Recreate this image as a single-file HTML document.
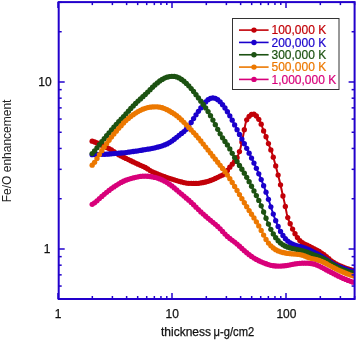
<!DOCTYPE html>
<html><head><meta charset="utf-8"><style>
html,body{margin:0;padding:0;background:#fff;}
svg{display:block;}
</style></head><body>
<svg width="357" height="340" viewBox="0 0 357 340">
<defs><clipPath id="pc"><rect x="58.7" y="2.1" width="295.90000000000003" height="296.9"/></clipPath></defs><g clip-path="url(#pc)"><path d="M92.15,141.14 L92.65,141.26 L93.15,141.43 L93.65,141.63 L94.15,141.83 L94.65,142.03 L95.15,142.24 L95.65,142.45 L96.15,142.66 L96.65,142.87 L97.15,143.08 L97.65,143.30 L98.15,143.52 L98.65,143.74 L99.15,143.96 L99.65,144.19 L100.15,144.42 L100.65,144.66 L101.15,144.89 L101.65,145.13 L102.15,145.37 L102.65,145.61 L103.15,145.85 L103.65,146.09 L104.15,146.33 L104.65,146.57 L105.15,146.81 L105.65,147.04 L106.15,147.27 L106.65,147.50 L107.15,147.72 L107.65,147.95 L108.15,148.18 L108.65,148.42 L109.15,148.66 L109.65,148.92 L110.15,149.19 L110.65,149.48 L111.15,149.79 L111.65,150.11 L112.15,150.44 L112.65,150.79 L113.15,151.14 L113.65,151.49 L114.15,151.85 L114.65,152.20 L115.15,152.55 L115.65,152.89 L116.15,153.22 L116.65,153.54 L117.15,153.85 L117.65,154.14 L118.15,154.43 L118.65,154.71 L119.15,154.98 L119.65,155.25 L120.15,155.52 L120.65,155.78 L121.15,156.05 L121.65,156.30 L122.15,156.56 L122.65,156.81 L123.15,157.07 L123.65,157.32 L124.15,157.57 L124.65,157.82 L125.15,158.07 L125.65,158.32 L126.15,158.56 L126.65,158.80 L127.15,159.04 L127.65,159.28 L128.15,159.52 L128.65,159.75 L129.15,159.99 L129.65,160.23 L130.15,160.46 L130.65,160.70 L131.15,160.94 L131.65,161.18 L132.15,161.42 L132.65,161.66 L133.15,161.90 L133.65,162.14 L134.15,162.38 L134.65,162.62 L135.15,162.86 L135.65,163.09 L136.15,163.33 L136.65,163.57 L137.15,163.80 L137.65,164.04 L138.15,164.27 L138.65,164.49 L139.15,164.72 L139.65,164.94 L140.15,165.15 L140.65,165.36 L141.15,165.58 L141.65,165.79 L142.15,166.01 L142.65,166.22 L143.15,166.45 L143.65,166.68 L144.15,166.91 L144.65,167.16 L145.15,167.42 L145.65,167.69 L146.15,167.98 L146.65,168.29 L147.15,168.61 L147.65,168.94 L148.15,169.27 L148.65,169.61 L149.15,169.94 L149.65,170.25 L150.15,170.56 L150.65,170.84 L151.15,171.11 L151.65,171.37 L152.15,171.62 L152.65,171.87 L153.15,172.11 L153.65,172.35 L154.15,172.58 L154.65,172.81 L155.15,173.03 L155.65,173.25 L156.15,173.47 L156.65,173.68 L157.15,173.89 L157.65,174.10 L158.15,174.30 L158.65,174.51 L159.15,174.71 L159.65,174.91 L160.15,175.11 L160.65,175.31 L161.15,175.50 L161.65,175.69 L162.15,175.87 L162.65,176.06 L163.15,176.24 L163.65,176.42 L164.15,176.60 L164.65,176.77 L165.15,176.94 L165.65,177.11 L166.15,177.28 L166.65,177.44 L167.15,177.60 L167.65,177.76 L168.15,177.92 L168.65,178.08 L169.15,178.24 L169.65,178.39 L170.15,178.55 L170.65,178.70 L171.15,178.85 L171.65,179.01 L172.15,179.16 L172.65,179.32 L173.15,179.47 L173.65,179.63 L174.15,179.79 L174.65,179.95 L175.15,180.12 L175.65,180.28 L176.15,180.44 L176.65,180.60 L177.15,180.76 L177.65,180.92 L178.15,181.07 L178.65,181.22 L179.15,181.36 L179.65,181.50 L180.15,181.63 L180.65,181.76 L181.15,181.88 L181.65,182.01 L182.15,182.13 L182.65,182.26 L183.15,182.39 L183.65,182.51 L184.15,182.64 L184.65,182.75 L185.15,182.86 L185.65,182.96 L186.15,183.05 L186.65,183.13 L187.15,183.19 L187.65,183.24 L188.15,183.28 L188.65,183.30 L189.15,183.31 L189.65,183.33 L190.15,183.34 L190.65,183.34 L191.15,183.35 L191.65,183.36 L192.15,183.37 L192.65,183.38 L193.15,183.38 L193.65,183.39 L194.15,183.39 L194.65,183.39 L195.15,183.40 L195.65,183.40 L196.15,183.40 L196.65,183.39 L197.15,183.38 L197.65,183.35 L198.15,183.31 L198.65,183.26 L199.15,183.21 L199.65,183.14 L200.15,183.06 L200.65,182.98 L201.15,182.90 L201.65,182.81 L202.15,182.71 L202.65,182.62 L203.15,182.52 L203.65,182.42 L204.15,182.32 L204.65,182.22 L205.15,182.11 L205.65,182.00 L206.15,181.87 L206.65,181.74 L207.15,181.60 L207.65,181.45 L208.15,181.29 L208.65,181.13 L209.15,180.97 L209.65,180.80 L210.15,180.63 L210.65,180.45 L211.15,180.27 L211.65,180.09 L212.15,179.90 L212.65,179.70 L213.15,179.50 L213.65,179.28 L214.15,179.06 L214.65,178.82 L215.15,178.58 L215.65,178.34 L216.15,178.09 L216.65,177.83 L217.15,177.58 L217.65,177.32 L218.15,177.07 L218.65,176.81 L219.15,176.56 L219.65,176.32 L220.15,176.08 L220.65,175.86 L221.15,175.64 L221.65,175.44 L222.15,175.23 L222.65,175.01 L223.15,174.77 L223.65,174.51 L224.15,174.22 L224.65,173.87 L225.15,173.45 L225.65,172.92 L226.15,172.27 L226.65,171.57 L227.15,170.85 L227.65,170.14 L228.15,169.44 L228.65,168.75 L229.15,168.05 L229.65,167.38 L230.15,166.72 L230.65,166.08 L231.15,165.47 L231.65,164.86 L232.15,164.27 L232.65,163.67 L233.15,163.08 L233.65,162.50 L234.15,161.93 L234.65,161.35 L235.15,160.73 L235.65,160.04 L236.15,159.27 L236.65,158.40 L237.15,157.44 L237.65,156.35 L238.15,155.14 L238.65,153.86 L239.15,152.52 L239.65,151.05 L240.15,149.36 L240.65,147.44 L241.15,145.33 L241.65,143.10 L242.15,140.76 L242.65,138.31 L243.15,135.76 L243.65,133.14 L244.15,130.49 L244.65,127.86 L245.15,125.33 L245.65,123.05 L246.15,121.25 L246.65,119.97 L247.15,119.02 L247.65,118.26 L248.15,117.59 L248.65,116.95 L249.15,116.31 L249.65,115.68 L250.15,115.13 L250.65,114.72 L251.15,114.44 L251.65,114.26 L252.15,114.14 L252.65,114.06 L253.15,114.05 L253.65,114.13 L254.15,114.30 L254.65,114.54 L255.15,114.84 L255.65,115.24 L256.15,115.74 L256.65,116.33 L257.15,116.98 L257.65,117.65 L258.15,118.37 L258.65,119.14 L259.15,119.97 L259.65,120.88 L260.15,121.87 L260.65,122.94 L261.15,124.10 L261.65,125.36 L262.15,126.75 L262.65,128.22 L263.15,129.68 L263.65,131.06 L264.15,132.31 L264.65,133.48 L265.15,134.62 L265.65,135.79 L266.15,137.03 L266.65,138.38 L267.15,139.82 L267.65,141.30 L268.15,142.77 L268.65,144.17 L269.15,145.51 L269.65,146.80 L270.15,148.09 L270.65,149.40 L271.15,150.77 L271.65,152.19 L272.15,153.67 L272.65,155.20 L273.15,156.79 L273.65,158.46 L274.15,160.22 L274.65,162.05 L275.15,163.93 L275.65,165.80 L276.15,167.67 L276.65,169.53 L277.15,171.40 L277.65,173.30 L278.15,175.22 L278.65,177.16 L279.15,179.14 L279.65,181.15 L280.15,183.22 L280.65,185.39 L281.15,187.66 L281.65,190.02 L282.15,192.40 L282.65,194.71 L283.15,196.92 L283.65,199.04 L284.15,201.14 L284.65,203.27 L285.15,205.52 L285.65,207.97 L286.15,210.58 L286.65,213.13 L287.15,215.38 L287.65,217.23 L288.15,218.77 L288.65,220.11 L289.15,221.35 L289.65,222.52 L290.15,223.68 L290.65,224.84 L291.15,225.97 L291.65,227.07 L292.15,228.14 L292.65,229.18 L293.15,230.19 L293.65,231.18 L294.15,232.15 L294.65,233.09 L295.15,233.99 L295.65,234.85 L296.15,235.66 L296.65,236.42 L297.15,237.16 L297.65,237.86 L298.15,238.53 L298.65,239.17 L299.15,239.77 L299.65,240.34 L300.15,240.89 L300.65,241.40 L301.15,241.88 L301.65,242.31 L302.15,242.68 L302.65,243.02 L303.15,243.32 L303.65,243.61 L304.15,243.88 L304.65,244.13 L305.15,244.37 L305.65,244.60 L306.15,244.83 L306.65,245.05 L307.15,245.27 L307.65,245.49 L308.15,245.71 L308.65,245.95 L309.15,246.19 L309.65,246.44 L310.15,246.69 L310.65,246.94 L311.15,247.19 L311.65,247.45 L312.15,247.70 L312.65,247.95 L313.15,248.21 L313.65,248.46 L314.15,248.72 L314.65,248.98 L315.15,249.24 L315.65,249.51 L316.15,249.78 L316.65,250.05 L317.15,250.33 L317.65,250.61 L318.15,250.90 L318.65,251.19 L319.15,251.49 L319.65,251.80 L320.15,252.11 L320.65,252.43 L321.15,252.75 L321.65,253.08 L322.15,253.41 L322.65,253.75 L323.15,254.10 L323.65,254.45 L324.15,254.81 L324.65,255.18 L325.15,255.55 L325.65,255.94 L326.15,256.35 L326.65,256.77 L327.15,257.21 L327.65,257.65 L328.15,258.09 L328.65,258.54 L329.15,258.99 L329.65,259.44 L330.15,259.87 L330.65,260.30 L331.15,260.71 L331.65,261.10 L332.15,261.48 L332.65,261.83 L333.15,262.16 L333.65,262.47 L334.15,262.78 L334.65,263.07 L335.15,263.36 L335.65,263.64 L336.15,263.91 L336.65,264.18 L337.15,264.44 L337.65,264.69 L338.15,264.93 L338.65,265.17 L339.15,265.40 L339.65,265.63 L340.15,265.85 L340.65,266.06 L341.15,266.27 L341.65,266.48 L342.15,266.68 L342.65,266.88 L343.15,267.08 L343.65,267.28 L344.15,267.48 L344.65,267.67 L345.15,267.86 L345.65,268.05 L346.15,268.23 L346.65,268.41 L347.15,268.59 L347.65,268.77 L348.15,268.94 L348.65,269.11 L349.15,269.27 L349.65,269.43 L350.15,269.59 L350.65,269.74 L351.15,269.89 L351.65,270.03 L352.15,270.17 L352.65,270.30 L353.15,270.43 L353.65,270.55 L354.15,270.66 L354.65,270.73 L355.15,270.77 L355.65,270.77" fill="none" stroke="#c20008" stroke-width="2.0"/>
<g fill="#c20008"><circle cx="92.15" cy="141.14" r="2.65"/><circle cx="94.57" cy="142.00" r="2.65"/><circle cx="96.98" cy="143.01" r="2.65"/><circle cx="99.40" cy="144.08" r="2.65"/><circle cx="101.81" cy="145.21" r="2.65"/><circle cx="104.23" cy="146.37" r="2.65"/><circle cx="106.64" cy="147.49" r="2.65"/><circle cx="109.06" cy="148.61" r="2.65"/><circle cx="111.47" cy="149.99" r="2.65"/><circle cx="113.89" cy="151.66" r="2.65"/><circle cx="116.30" cy="153.32" r="2.65"/><circle cx="118.72" cy="154.74" r="2.65"/><circle cx="121.13" cy="156.03" r="2.65"/><circle cx="123.55" cy="157.27" r="2.65"/><circle cx="125.96" cy="158.47" r="2.65"/><circle cx="128.38" cy="159.62" r="2.65"/><circle cx="130.79" cy="160.77" r="2.65"/><circle cx="133.21" cy="161.92" r="2.65"/><circle cx="135.62" cy="163.08" r="2.65"/><circle cx="138.04" cy="164.21" r="2.65"/><circle cx="140.45" cy="165.28" r="2.65"/><circle cx="142.87" cy="166.32" r="2.65"/><circle cx="145.28" cy="167.49" r="2.65"/><circle cx="147.70" cy="168.97" r="2.65"/><circle cx="150.11" cy="170.53" r="2.65"/><circle cx="152.53" cy="171.81" r="2.65"/><circle cx="154.94" cy="172.94" r="2.65"/><circle cx="157.36" cy="173.97" r="2.65"/><circle cx="159.77" cy="174.96" r="2.65"/><circle cx="162.19" cy="175.89" r="2.65"/><circle cx="164.60" cy="176.75" r="2.65"/><circle cx="167.02" cy="177.56" r="2.65"/><circle cx="169.43" cy="178.32" r="2.65"/><circle cx="171.85" cy="179.07" r="2.65"/><circle cx="174.26" cy="179.83" r="2.65"/><circle cx="176.68" cy="180.61" r="2.65"/><circle cx="179.09" cy="181.34" r="2.65"/><circle cx="181.51" cy="181.97" r="2.65"/><circle cx="183.92" cy="182.58" r="2.65"/><circle cx="186.34" cy="183.08" r="2.65"/><circle cx="188.75" cy="183.30" r="2.65"/><circle cx="191.17" cy="183.35" r="2.65"/><circle cx="193.58" cy="183.39" r="2.65"/><circle cx="196.00" cy="183.40" r="2.65"/><circle cx="198.41" cy="183.29" r="2.65"/><circle cx="200.83" cy="182.95" r="2.65"/><circle cx="203.24" cy="182.50" r="2.65"/><circle cx="205.66" cy="181.99" r="2.65"/><circle cx="208.07" cy="181.32" r="2.65"/><circle cx="210.49" cy="180.51" r="2.65"/><circle cx="212.90" cy="179.60" r="2.65"/><circle cx="215.32" cy="178.50" r="2.65"/><circle cx="217.73" cy="177.28" r="2.65"/><circle cx="220.15" cy="176.08" r="2.65"/><circle cx="222.56" cy="175.05" r="2.65"/><circle cx="224.98" cy="173.61" r="2.65"/><circle cx="227.39" cy="170.51" r="2.65"/><circle cx="229.81" cy="167.17" r="2.65"/><circle cx="232.22" cy="164.18" r="2.65"/><circle cx="234.64" cy="161.37" r="2.65"/><circle cx="237.05" cy="157.64" r="2.65"/><circle cx="239.47" cy="151.61" r="2.65"/><circle cx="241.88" cy="142.04" r="2.65"/><circle cx="244.30" cy="129.72" r="2.65"/><circle cx="246.71" cy="119.85" r="2.65"/><circle cx="249.13" cy="116.34" r="2.65"/><circle cx="251.54" cy="114.30" r="2.65"/><circle cx="253.96" cy="114.22" r="2.65"/><circle cx="256.37" cy="115.99" r="2.65"/><circle cx="258.79" cy="119.36" r="2.65"/><circle cx="261.20" cy="124.22" r="2.65"/><circle cx="263.62" cy="130.96" r="2.65"/><circle cx="266.03" cy="136.73" r="2.65"/><circle cx="268.45" cy="143.60" r="2.65"/><circle cx="270.86" cy="149.97" r="2.65"/><circle cx="273.28" cy="157.20" r="2.65"/><circle cx="275.69" cy="165.95" r="2.65"/><circle cx="278.11" cy="175.04" r="2.65"/><circle cx="280.52" cy="184.82" r="2.65"/><circle cx="282.94" cy="195.98" r="2.65"/><circle cx="285.35" cy="206.48" r="2.65"/><circle cx="287.77" cy="217.59" r="2.65"/><circle cx="290.18" cy="223.75" r="2.65"/><circle cx="292.60" cy="229.07" r="2.65"/><circle cx="295.01" cy="233.74" r="2.65"/><circle cx="297.43" cy="237.55" r="2.65"/><circle cx="299.84" cy="240.55" r="2.65"/><circle cx="302.26" cy="242.76" r="2.65"/><circle cx="304.67" cy="244.14" r="2.65"/><circle cx="307.09" cy="245.24" r="2.65"/><circle cx="309.50" cy="246.36" r="2.65"/><circle cx="311.92" cy="247.58" r="2.65"/><circle cx="314.33" cy="248.81" r="2.65"/><circle cx="316.75" cy="250.11" r="2.65"/><circle cx="319.16" cy="251.50" r="2.65"/><circle cx="321.58" cy="253.03" r="2.65"/><circle cx="323.99" cy="254.70" r="2.65"/><circle cx="326.41" cy="256.56" r="2.65"/><circle cx="328.82" cy="258.70" r="2.65"/><circle cx="331.24" cy="260.78" r="2.65"/><circle cx="333.65" cy="262.47" r="2.65"/><circle cx="336.07" cy="263.87" r="2.65"/><circle cx="338.48" cy="265.09" r="2.65"/><circle cx="340.90" cy="266.16" r="2.65"/><circle cx="343.31" cy="267.15" r="2.65"/><circle cx="345.73" cy="268.08" r="2.65"/><circle cx="348.14" cy="268.94" r="2.65"/><circle cx="350.56" cy="269.71" r="2.65"/><circle cx="352.97" cy="270.38" r="2.65"/><circle cx="355.39" cy="270.77" r="2.65"/></g><path d="M92.15,154.65 L92.65,154.65 L93.15,154.64 L93.65,154.62 L94.15,154.61 L94.65,154.60 L95.15,154.58 L95.65,154.57 L96.15,154.55 L96.65,154.54 L97.15,154.52 L97.65,154.50 L98.15,154.48 L98.65,154.47 L99.15,154.45 L99.65,154.43 L100.15,154.41 L100.65,154.39 L101.15,154.37 L101.65,154.35 L102.15,154.33 L102.65,154.31 L103.15,154.29 L103.65,154.27 L104.15,154.25 L104.65,154.23 L105.15,154.21 L105.65,154.19 L106.15,154.16 L106.65,154.14 L107.15,154.11 L107.65,154.09 L108.15,154.06 L108.65,154.02 L109.15,153.99 L109.65,153.95 L110.15,153.92 L110.65,153.88 L111.15,153.83 L111.65,153.79 L112.15,153.74 L112.65,153.69 L113.15,153.65 L113.65,153.60 L114.15,153.55 L114.65,153.50 L115.15,153.45 L115.65,153.41 L116.15,153.36 L116.65,153.32 L117.15,153.27 L117.65,153.23 L118.15,153.20 L118.65,153.16 L119.15,153.12 L119.65,153.09 L120.15,153.05 L120.65,153.02 L121.15,152.98 L121.65,152.95 L122.15,152.91 L122.65,152.87 L123.15,152.83 L123.65,152.78 L124.15,152.73 L124.65,152.68 L125.15,152.63 L125.65,152.57 L126.15,152.51 L126.65,152.45 L127.15,152.38 L127.65,152.31 L128.15,152.24 L128.65,152.17 L129.15,152.09 L129.65,152.02 L130.15,151.95 L130.65,151.87 L131.15,151.80 L131.65,151.73 L132.15,151.65 L132.65,151.58 L133.15,151.51 L133.65,151.44 L134.15,151.37 L134.65,151.30 L135.15,151.23 L135.65,151.15 L136.15,151.08 L136.65,151.01 L137.15,150.93 L137.65,150.86 L138.15,150.78 L138.65,150.71 L139.15,150.63 L139.65,150.55 L140.15,150.47 L140.65,150.39 L141.15,150.30 L141.65,150.22 L142.15,150.14 L142.65,150.05 L143.15,149.97 L143.65,149.89 L144.15,149.80 L144.65,149.72 L145.15,149.64 L145.65,149.55 L146.15,149.47 L146.65,149.39 L147.15,149.30 L147.65,149.22 L148.15,149.13 L148.65,149.05 L149.15,148.96 L149.65,148.87 L150.15,148.78 L150.65,148.68 L151.15,148.59 L151.65,148.49 L152.15,148.39 L152.65,148.28 L153.15,148.18 L153.65,148.07 L154.15,147.96 L154.65,147.85 L155.15,147.73 L155.65,147.61 L156.15,147.49 L156.65,147.37 L157.15,147.24 L157.65,147.11 L158.15,146.98 L158.65,146.85 L159.15,146.71 L159.65,146.57 L160.15,146.43 L160.65,146.28 L161.15,146.13 L161.65,145.98 L162.15,145.82 L162.65,145.65 L163.15,145.48 L163.65,145.30 L164.15,145.12 L164.65,144.93 L165.15,144.73 L165.65,144.52 L166.15,144.30 L166.65,144.07 L167.15,143.84 L167.65,143.59 L168.15,143.33 L168.65,143.05 L169.15,142.77 L169.65,142.47 L170.15,142.17 L170.65,141.85 L171.15,141.52 L171.65,141.18 L172.15,140.82 L172.65,140.46 L173.15,140.09 L173.65,139.71 L174.15,139.32 L174.65,138.93 L175.15,138.53 L175.65,138.13 L176.15,137.72 L176.65,137.31 L177.15,136.90 L177.65,136.49 L178.15,136.08 L178.65,135.67 L179.15,135.27 L179.65,134.88 L180.15,134.49 L180.65,134.11 L181.15,133.73 L181.65,133.36 L182.15,132.98 L182.65,132.60 L183.15,132.21 L183.65,131.81 L184.15,131.39 L184.65,130.95 L185.15,130.48 L185.65,129.98 L186.15,129.45 L186.65,128.88 L187.15,128.28 L187.65,127.64 L188.15,126.97 L188.65,126.27 L189.15,125.54 L189.65,124.79 L190.15,124.02 L190.65,123.24 L191.15,122.45 L191.65,121.65 L192.15,120.85 L192.65,120.05 L193.15,119.25 L193.65,118.46 L194.15,117.67 L194.65,116.89 L195.15,116.12 L195.65,115.36 L196.15,114.61 L196.65,113.86 L197.15,113.13 L197.65,112.41 L198.15,111.69 L198.65,110.98 L199.15,110.28 L199.65,109.58 L200.15,108.89 L200.65,108.20 L201.15,107.52 L201.65,106.85 L202.15,106.18 L202.65,105.52 L203.15,104.87 L203.65,104.24 L204.15,103.63 L204.65,103.04 L205.15,102.47 L205.65,101.92 L206.15,101.40 L206.65,100.92 L207.15,100.46 L207.65,100.04 L208.15,99.65 L208.65,99.30 L209.15,98.99 L209.65,98.72 L210.15,98.48 L210.65,98.29 L211.15,98.13 L211.65,98.01 L212.15,97.94 L212.65,97.90 L213.15,97.90 L213.65,97.94 L214.15,98.01 L214.65,98.13 L215.15,98.28 L215.65,98.47 L216.15,98.70 L216.65,98.96 L217.15,99.27 L217.65,99.61 L218.15,99.98 L218.65,100.39 L219.15,100.83 L219.65,101.31 L220.15,101.82 L220.65,102.35 L221.15,102.92 L221.65,103.51 L222.15,104.12 L222.65,104.76 L223.15,105.42 L223.65,106.10 L224.15,106.80 L224.65,107.52 L225.15,108.25 L225.65,109.01 L226.15,109.77 L226.65,110.56 L227.15,111.35 L227.65,112.17 L228.15,112.99 L228.65,113.83 L229.15,114.69 L229.65,115.56 L230.15,116.44 L230.65,117.33 L231.15,118.24 L231.65,119.16 L232.15,120.09 L232.65,121.04 L233.15,121.99 L233.65,122.96 L234.15,123.93 L234.65,124.92 L235.15,125.91 L235.65,126.90 L236.15,127.89 L236.65,128.88 L237.15,129.88 L237.65,130.87 L238.15,131.85 L238.65,132.83 L239.15,133.81 L239.65,134.78 L240.15,135.75 L240.65,136.71 L241.15,137.67 L241.65,138.63 L242.15,139.58 L242.65,140.54 L243.15,141.49 L243.65,142.45 L244.15,143.41 L244.65,144.37 L245.15,145.34 L245.65,146.30 L246.15,147.28 L246.65,148.25 L247.15,149.23 L247.65,150.22 L248.15,151.21 L248.65,152.21 L249.15,153.21 L249.65,154.22 L250.15,155.24 L250.65,156.25 L251.15,157.28 L251.65,158.31 L252.15,159.34 L252.65,160.38 L253.15,161.43 L253.65,162.48 L254.15,163.54 L254.65,164.60 L255.15,165.67 L255.65,166.76 L256.15,167.85 L256.65,168.95 L257.15,170.06 L257.65,171.18 L258.15,172.32 L258.65,173.47 L259.15,174.63 L259.65,175.80 L260.15,176.99 L260.65,178.19 L261.15,179.40 L261.65,180.63 L262.15,181.88 L262.65,183.14 L263.15,184.42 L263.65,185.72 L264.15,187.04 L264.65,188.38 L265.15,189.74 L265.65,191.12 L266.15,192.53 L266.65,193.97 L267.15,195.43 L267.65,196.91 L268.15,198.42 L268.65,199.95 L269.15,201.49 L269.65,203.04 L270.15,204.60 L270.65,206.16 L271.15,207.71 L271.65,209.25 L272.15,210.77 L272.65,212.27 L273.15,213.74 L273.65,215.18 L274.15,216.59 L274.65,217.96 L275.15,219.30 L275.65,220.60 L276.15,221.87 L276.65,223.10 L277.15,224.30 L277.65,225.46 L278.15,226.59 L278.65,227.68 L279.15,228.73 L279.65,229.75 L280.15,230.73 L280.65,231.67 L281.15,232.57 L281.65,233.43 L282.15,234.26 L282.65,235.04 L283.15,235.79 L283.65,236.50 L284.15,237.17 L284.65,237.80 L285.15,238.41 L285.65,238.97 L286.15,239.51 L286.65,240.02 L287.15,240.50 L287.65,240.95 L288.15,241.38 L288.65,241.78 L289.15,242.15 L289.65,242.50 L290.15,242.84 L290.65,243.15 L291.15,243.44 L291.65,243.71 L292.15,243.97 L292.65,244.21 L293.15,244.43 L293.65,244.64 L294.15,244.84 L294.65,245.02 L295.15,245.20 L295.65,245.36 L296.15,245.51 L296.65,245.66 L297.15,245.80 L297.65,245.94 L298.15,246.07 L298.65,246.20 L299.15,246.32 L299.65,246.45 L300.15,246.58 L300.65,246.70 L301.15,246.83 L301.65,246.97 L302.15,247.11 L302.65,247.26 L303.15,247.41 L303.65,247.57 L304.15,247.73 L304.65,247.91 L305.15,248.09 L305.65,248.27 L306.15,248.47 L306.65,248.67 L307.15,248.88 L307.65,249.10 L308.15,249.32 L308.65,249.55 L309.15,249.78 L309.65,250.02 L310.15,250.27 L310.65,250.52 L311.15,250.77 L311.65,251.03 L312.15,251.29 L312.65,251.55 L313.15,251.81 L313.65,252.08 L314.15,252.34 L314.65,252.60 L315.15,252.87 L315.65,253.13 L316.15,253.39 L316.65,253.66 L317.15,253.92 L317.65,254.18 L318.15,254.45 L318.65,254.72 L319.15,255.00 L319.65,255.27 L320.15,255.56 L320.65,255.85 L321.15,256.14 L321.65,256.44 L322.15,256.75 L322.65,257.06 L323.15,257.38 L323.65,257.70 L324.15,258.03 L324.65,258.36 L325.15,258.69 L325.65,259.03 L326.15,259.37 L326.65,259.70 L327.15,260.04 L327.65,260.38 L328.15,260.72 L328.65,261.05 L329.15,261.38 L329.65,261.71 L330.15,262.03 L330.65,262.35 L331.15,262.65 L331.65,262.96 L332.15,263.25 L332.65,263.54 L333.15,263.82 L333.65,264.10 L334.15,264.36 L334.65,264.62 L335.15,264.87 L335.65,265.12 L336.15,265.35 L336.65,265.59 L337.15,265.81 L337.65,266.04 L338.15,266.25 L338.65,266.47 L339.15,266.68 L339.65,266.88 L340.15,267.09 L340.65,267.29 L341.15,267.49 L341.65,267.68 L342.15,267.88 L342.65,268.07 L343.15,268.26 L343.65,268.44 L344.15,268.63 L344.65,268.81 L345.15,268.99 L345.65,269.17 L346.15,269.35 L346.65,269.53 L347.15,269.70 L347.65,269.87 L348.15,270.04 L348.65,270.20 L349.15,270.36 L349.65,270.52 L350.15,270.67 L350.65,270.82 L351.15,270.96 L351.65,271.10 L352.15,271.22 L352.65,271.34 L353.15,271.45 L353.65,271.55 L354.15,271.64 L354.65,271.72 L355.15,271.79 L355.65,271.85" fill="none" stroke="#1a00cc" stroke-width="2.0"/>
<g fill="#1a00cc"><circle cx="92.15" cy="154.65" r="2.65"/><circle cx="94.57" cy="154.60" r="2.65"/><circle cx="96.98" cy="154.52" r="2.65"/><circle cx="99.40" cy="154.44" r="2.65"/><circle cx="101.81" cy="154.35" r="2.65"/><circle cx="104.23" cy="154.25" r="2.65"/><circle cx="106.64" cy="154.14" r="2.65"/><circle cx="109.06" cy="154.00" r="2.65"/><circle cx="111.47" cy="153.80" r="2.65"/><circle cx="113.89" cy="153.57" r="2.65"/><circle cx="116.30" cy="153.35" r="2.65"/><circle cx="118.72" cy="153.15" r="2.65"/><circle cx="121.13" cy="152.98" r="2.65"/><circle cx="123.55" cy="152.79" r="2.65"/><circle cx="125.96" cy="152.53" r="2.65"/><circle cx="128.38" cy="152.21" r="2.65"/><circle cx="130.79" cy="151.85" r="2.65"/><circle cx="133.21" cy="151.50" r="2.65"/><circle cx="135.62" cy="151.16" r="2.65"/><circle cx="138.04" cy="150.80" r="2.65"/><circle cx="140.45" cy="150.42" r="2.65"/><circle cx="142.87" cy="150.02" r="2.65"/><circle cx="145.28" cy="149.61" r="2.65"/><circle cx="147.70" cy="149.21" r="2.65"/><circle cx="150.11" cy="148.78" r="2.65"/><circle cx="152.53" cy="148.31" r="2.65"/><circle cx="154.94" cy="147.78" r="2.65"/><circle cx="157.36" cy="147.19" r="2.65"/><circle cx="159.77" cy="146.54" r="2.65"/><circle cx="162.19" cy="145.81" r="2.65"/><circle cx="164.60" cy="144.95" r="2.65"/><circle cx="167.02" cy="143.90" r="2.65"/><circle cx="169.43" cy="142.61" r="2.65"/><circle cx="171.85" cy="141.04" r="2.65"/><circle cx="174.26" cy="139.24" r="2.65"/><circle cx="176.68" cy="137.29" r="2.65"/><circle cx="179.09" cy="135.32" r="2.65"/><circle cx="181.51" cy="133.46" r="2.65"/><circle cx="183.92" cy="131.59" r="2.65"/><circle cx="186.34" cy="129.25" r="2.65"/><circle cx="188.75" cy="126.13" r="2.65"/><circle cx="191.17" cy="122.43" r="2.65"/><circle cx="193.58" cy="118.57" r="2.65"/><circle cx="196.00" cy="114.84" r="2.65"/><circle cx="198.41" cy="111.32" r="2.65"/><circle cx="200.83" cy="107.96" r="2.65"/><circle cx="203.24" cy="104.76" r="2.65"/><circle cx="205.66" cy="101.92" r="2.65"/><circle cx="208.07" cy="99.71" r="2.65"/><circle cx="210.49" cy="98.35" r="2.65"/><circle cx="212.90" cy="97.89" r="2.65"/><circle cx="215.32" cy="98.34" r="2.65"/><circle cx="217.73" cy="99.66" r="2.65"/><circle cx="220.15" cy="101.81" r="2.65"/><circle cx="222.56" cy="104.64" r="2.65"/><circle cx="224.98" cy="107.99" r="2.65"/><circle cx="227.39" cy="111.74" r="2.65"/><circle cx="229.81" cy="115.83" r="2.65"/><circle cx="232.22" cy="120.22" r="2.65"/><circle cx="234.64" cy="124.89" r="2.65"/><circle cx="237.05" cy="129.68" r="2.65"/><circle cx="239.47" cy="134.42" r="2.65"/><circle cx="241.88" cy="139.07" r="2.65"/><circle cx="244.30" cy="143.69" r="2.65"/><circle cx="246.71" cy="148.37" r="2.65"/><circle cx="249.13" cy="153.16" r="2.65"/><circle cx="251.54" cy="158.08" r="2.65"/><circle cx="253.96" cy="163.12" r="2.65"/><circle cx="256.37" cy="168.33" r="2.65"/><circle cx="258.79" cy="173.78" r="2.65"/><circle cx="261.20" cy="179.53" r="2.65"/><circle cx="263.62" cy="185.63" r="2.65"/><circle cx="266.03" cy="192.19" r="2.65"/><circle cx="268.45" cy="199.32" r="2.65"/><circle cx="270.86" cy="206.81" r="2.65"/><circle cx="273.28" cy="214.10" r="2.65"/><circle cx="275.69" cy="220.71" r="2.65"/><circle cx="278.11" cy="226.49" r="2.65"/><circle cx="280.52" cy="231.43" r="2.65"/><circle cx="282.94" cy="235.47" r="2.65"/><circle cx="285.35" cy="238.64" r="2.65"/><circle cx="287.77" cy="241.05" r="2.65"/><circle cx="290.18" cy="242.86" r="2.65"/><circle cx="292.60" cy="244.18" r="2.65"/><circle cx="295.01" cy="245.15" r="2.65"/><circle cx="297.43" cy="245.88" r="2.65"/><circle cx="299.84" cy="246.50" r="2.65"/><circle cx="302.26" cy="247.14" r="2.65"/><circle cx="304.67" cy="247.91" r="2.65"/><circle cx="307.09" cy="248.85" r="2.65"/><circle cx="309.50" cy="249.95" r="2.65"/><circle cx="311.92" cy="251.16" r="2.65"/><circle cx="314.33" cy="252.44" r="2.65"/><circle cx="316.75" cy="253.71" r="2.65"/><circle cx="319.16" cy="255.00" r="2.65"/><circle cx="321.58" cy="256.40" r="2.65"/><circle cx="323.99" cy="257.93" r="2.65"/><circle cx="326.41" cy="259.54" r="2.65"/><circle cx="328.82" cy="261.16" r="2.65"/><circle cx="331.24" cy="262.71" r="2.65"/><circle cx="333.65" cy="264.10" r="2.65"/><circle cx="336.07" cy="265.31" r="2.65"/><circle cx="338.48" cy="266.39" r="2.65"/><circle cx="340.90" cy="267.39" r="2.65"/><circle cx="343.31" cy="268.32" r="2.65"/><circle cx="345.73" cy="269.20" r="2.65"/><circle cx="348.14" cy="270.03" r="2.65"/><circle cx="350.56" cy="270.79" r="2.65"/><circle cx="352.97" cy="271.41" r="2.65"/><circle cx="355.39" cy="271.82" r="2.65"/></g><path d="M92.15,153.55 L92.65,153.11 L93.15,152.61 L93.65,152.07 L94.15,151.50 L94.65,150.89 L95.15,150.25 L95.65,149.60 L96.15,148.93 L96.65,148.26 L97.15,147.59 L97.65,146.93 L98.15,146.27 L98.65,145.61 L99.15,144.97 L99.65,144.33 L100.15,143.69 L100.65,143.07 L101.15,142.45 L101.65,141.83 L102.15,141.21 L102.65,140.60 L103.15,139.98 L103.65,139.37 L104.15,138.76 L104.65,138.15 L105.15,137.53 L105.65,136.92 L106.15,136.32 L106.65,135.71 L107.15,135.10 L107.65,134.49 L108.15,133.89 L108.65,133.28 L109.15,132.68 L109.65,132.08 L110.15,131.48 L110.65,130.88 L111.15,130.28 L111.65,129.68 L112.15,129.09 L112.65,128.50 L113.15,127.92 L113.65,127.34 L114.15,126.76 L114.65,126.19 L115.15,125.62 L115.65,125.07 L116.15,124.51 L116.65,123.97 L117.15,123.42 L117.65,122.88 L118.15,122.35 L118.65,121.82 L119.15,121.28 L119.65,120.75 L120.15,120.22 L120.65,119.68 L121.15,119.14 L121.65,118.60 L122.15,118.06 L122.65,117.51 L123.15,116.96 L123.65,116.41 L124.15,115.86 L124.65,115.30 L125.15,114.74 L125.65,114.19 L126.15,113.63 L126.65,113.07 L127.15,112.51 L127.65,111.96 L128.15,111.41 L128.65,110.85 L129.15,110.30 L129.65,109.75 L130.15,109.21 L130.65,108.66 L131.15,108.12 L131.65,107.58 L132.15,107.05 L132.65,106.52 L133.15,105.99 L133.65,105.47 L134.15,104.95 L134.65,104.43 L135.15,103.93 L135.65,103.42 L136.15,102.93 L136.65,102.44 L137.15,101.95 L137.65,101.47 L138.15,101.00 L138.65,100.53 L139.15,100.07 L139.65,99.61 L140.15,99.16 L140.65,98.70 L141.15,98.25 L141.65,97.80 L142.15,97.34 L142.65,96.89 L143.15,96.43 L143.65,95.96 L144.15,95.50 L144.65,95.02 L145.15,94.54 L145.65,94.06 L146.15,93.58 L146.65,93.09 L147.15,92.59 L147.65,92.09 L148.15,91.60 L148.65,91.09 L149.15,90.59 L149.65,90.09 L150.15,89.59 L150.65,89.09 L151.15,88.60 L151.65,88.10 L152.15,87.62 L152.65,87.13 L153.15,86.65 L153.65,86.18 L154.15,85.71 L154.65,85.25 L155.15,84.80 L155.65,84.35 L156.15,83.92 L156.65,83.48 L157.15,83.06 L157.65,82.65 L158.15,82.25 L158.65,81.85 L159.15,81.47 L159.65,81.10 L160.15,80.74 L160.65,80.39 L161.15,80.06 L161.65,79.73 L162.15,79.42 L162.65,79.13 L163.15,78.84 L163.65,78.58 L164.15,78.32 L164.65,78.08 L165.15,77.86 L165.65,77.65 L166.15,77.46 L166.65,77.29 L167.15,77.13 L167.65,76.98 L168.15,76.86 L168.65,76.74 L169.15,76.64 L169.65,76.56 L170.15,76.49 L170.65,76.44 L171.15,76.39 L171.65,76.37 L172.15,76.35 L172.65,76.36 L173.15,76.37 L173.65,76.41 L174.15,76.45 L174.65,76.52 L175.15,76.60 L175.65,76.70 L176.15,76.82 L176.65,76.96 L177.15,77.12 L177.65,77.30 L178.15,77.50 L178.65,77.72 L179.15,77.96 L179.65,78.23 L180.15,78.52 L180.65,78.82 L181.15,79.15 L181.65,79.50 L182.15,79.86 L182.65,80.23 L183.15,80.63 L183.65,81.03 L184.15,81.45 L184.65,81.87 L185.15,82.31 L185.65,82.76 L186.15,83.22 L186.65,83.69 L187.15,84.17 L187.65,84.67 L188.15,85.18 L188.65,85.70 L189.15,86.23 L189.65,86.78 L190.15,87.34 L190.65,87.92 L191.15,88.51 L191.65,89.11 L192.15,89.72 L192.65,90.34 L193.15,90.97 L193.65,91.61 L194.15,92.26 L194.65,92.92 L195.15,93.58 L195.65,94.24 L196.15,94.91 L196.65,95.58 L197.15,96.25 L197.65,96.92 L198.15,97.59 L198.65,98.27 L199.15,98.94 L199.65,99.62 L200.15,100.30 L200.65,100.97 L201.15,101.65 L201.65,102.33 L202.15,103.01 L202.65,103.69 L203.15,104.38 L203.65,105.07 L204.15,105.77 L204.65,106.48 L205.15,107.19 L205.65,107.92 L206.15,108.66 L206.65,109.41 L207.15,110.18 L207.65,110.96 L208.15,111.75 L208.65,112.56 L209.15,113.39 L209.65,114.24 L210.15,115.10 L210.65,115.97 L211.15,116.86 L211.65,117.76 L212.15,118.67 L212.65,119.59 L213.15,120.53 L213.65,121.47 L214.15,122.42 L214.65,123.38 L215.15,124.34 L215.65,125.31 L216.15,126.28 L216.65,127.25 L217.15,128.21 L217.65,129.18 L218.15,130.13 L218.65,131.08 L219.15,132.01 L219.65,132.93 L220.15,133.83 L220.65,134.71 L221.15,135.57 L221.65,136.40 L222.15,137.21 L222.65,138.00 L223.15,138.76 L223.65,139.50 L224.15,140.23 L224.65,140.94 L225.15,141.66 L225.65,142.37 L226.15,143.09 L226.65,143.82 L227.15,144.57 L227.65,145.35 L228.15,146.15 L228.65,146.97 L229.15,147.82 L229.65,148.68 L230.15,149.57 L230.65,150.47 L231.15,151.38 L231.65,152.29 L232.15,153.21 L232.65,154.11 L233.15,155.01 L233.65,155.90 L234.15,156.78 L234.65,157.64 L235.15,158.49 L235.65,159.33 L236.15,160.15 L236.65,160.97 L237.15,161.77 L237.65,162.57 L238.15,163.37 L238.65,164.16 L239.15,164.95 L239.65,165.73 L240.15,166.52 L240.65,167.31 L241.15,168.10 L241.65,168.89 L242.15,169.70 L242.65,170.50 L243.15,171.32 L243.65,172.14 L244.15,172.97 L244.65,173.80 L245.15,174.65 L245.65,175.51 L246.15,176.37 L246.65,177.25 L247.15,178.14 L247.65,179.03 L248.15,179.94 L248.65,180.85 L249.15,181.77 L249.65,182.70 L250.15,183.63 L250.65,184.58 L251.15,185.52 L251.65,186.47 L252.15,187.43 L252.65,188.39 L253.15,189.34 L253.65,190.30 L254.15,191.26 L254.65,192.23 L255.15,193.19 L255.65,194.15 L256.15,195.12 L256.65,196.10 L257.15,197.08 L257.65,198.08 L258.15,199.10 L258.65,200.13 L259.15,201.19 L259.65,202.28 L260.15,203.40 L260.65,204.56 L261.15,205.74 L261.65,206.96 L262.15,208.21 L262.65,209.48 L263.15,210.77 L263.65,212.07 L264.15,213.39 L264.65,214.70 L265.15,216.00 L265.65,217.29 L266.15,218.56 L266.65,219.82 L267.15,221.04 L267.65,222.25 L268.15,223.42 L268.65,224.57 L269.15,225.69 L269.65,226.79 L270.15,227.86 L270.65,228.90 L271.15,229.91 L271.65,230.90 L272.15,231.85 L272.65,232.77 L273.15,233.67 L273.65,234.53 L274.15,235.36 L274.65,236.15 L275.15,236.91 L275.65,237.64 L276.15,238.34 L276.65,239.00 L277.15,239.63 L277.65,240.22 L278.15,240.79 L278.65,241.32 L279.15,241.83 L279.65,242.31 L280.15,242.76 L280.65,243.18 L281.15,243.58 L281.65,243.96 L282.15,244.32 L282.65,244.65 L283.15,244.97 L283.65,245.27 L284.15,245.55 L284.65,245.82 L285.15,246.07 L285.65,246.31 L286.15,246.53 L286.65,246.74 L287.15,246.94 L287.65,247.13 L288.15,247.30 L288.65,247.47 L289.15,247.63 L289.65,247.79 L290.15,247.93 L290.65,248.07 L291.15,248.21 L291.65,248.33 L292.15,248.46 L292.65,248.57 L293.15,248.69 L293.65,248.80 L294.15,248.90 L294.65,249.01 L295.15,249.11 L295.65,249.20 L296.15,249.30 L296.65,249.40 L297.15,249.49 L297.65,249.59 L298.15,249.69 L298.65,249.79 L299.15,249.89 L299.65,250.00 L300.15,250.11 L300.65,250.23 L301.15,250.35 L301.65,250.48 L302.15,250.61 L302.65,250.75 L303.15,250.90 L303.65,251.05 L304.15,251.21 L304.65,251.38 L305.15,251.55 L305.65,251.72 L306.15,251.90 L306.65,252.09 L307.15,252.27 L307.65,252.46 L308.15,252.65 L308.65,252.84 L309.15,253.04 L309.65,253.23 L310.15,253.42 L310.65,253.62 L311.15,253.81 L311.65,254.01 L312.15,254.20 L312.65,254.39 L313.15,254.59 L313.65,254.78 L314.15,254.97 L314.65,255.17 L315.15,255.36 L315.65,255.55 L316.15,255.75 L316.65,255.94 L317.15,256.14 L317.65,256.33 L318.15,256.53 L318.65,256.74 L319.15,256.94 L319.65,257.15 L320.15,257.36 L320.65,257.58 L321.15,257.80 L321.65,258.03 L322.15,258.26 L322.65,258.50 L323.15,258.74 L323.65,259.00 L324.15,259.26 L324.65,259.52 L325.15,259.80 L325.65,260.08 L326.15,260.37 L326.65,260.66 L327.15,260.96 L327.65,261.27 L328.15,261.58 L328.65,261.89 L329.15,262.20 L329.65,262.52 L330.15,262.84 L330.65,263.16 L331.15,263.47 L331.65,263.79 L332.15,264.10 L332.65,264.41 L333.15,264.71 L333.65,265.01 L334.15,265.31 L334.65,265.60 L335.15,265.89 L335.65,266.17 L336.15,266.45 L336.65,266.72 L337.15,266.99 L337.65,267.25 L338.15,267.51 L338.65,267.76 L339.15,268.00 L339.65,268.24 L340.15,268.48 L340.65,268.70 L341.15,268.93 L341.65,269.14 L342.15,269.36 L342.65,269.56 L343.15,269.77 L343.65,269.97 L344.15,270.16 L344.65,270.35 L345.15,270.54 L345.65,270.72 L346.15,270.90 L346.65,271.07 L347.15,271.24 L347.65,271.41 L348.15,271.57 L348.65,271.73 L349.15,271.88 L349.65,272.03 L350.15,272.17 L350.65,272.31 L351.15,272.43 L351.65,272.55 L352.15,272.66 L352.65,272.77 L353.15,272.86 L353.65,272.94 L354.15,273.02 L354.65,273.09 L355.15,273.14 L355.65,273.19" fill="none" stroke="#1c5212" stroke-width="2.0"/>
<g fill="#1c5212"><circle cx="92.15" cy="153.55" r="2.65"/><circle cx="94.57" cy="150.99" r="2.65"/><circle cx="96.98" cy="147.82" r="2.65"/><circle cx="99.40" cy="144.65" r="2.65"/><circle cx="101.81" cy="141.63" r="2.65"/><circle cx="104.23" cy="138.67" r="2.65"/><circle cx="106.64" cy="135.72" r="2.65"/><circle cx="109.06" cy="132.79" r="2.65"/><circle cx="111.47" cy="129.90" r="2.65"/><circle cx="113.89" cy="127.06" r="2.65"/><circle cx="116.30" cy="124.35" r="2.65"/><circle cx="118.72" cy="121.75" r="2.65"/><circle cx="121.13" cy="119.17" r="2.65"/><circle cx="123.55" cy="116.53" r="2.65"/><circle cx="125.96" cy="113.84" r="2.65"/><circle cx="128.38" cy="111.16" r="2.65"/><circle cx="130.79" cy="108.51" r="2.65"/><circle cx="133.21" cy="105.93" r="2.65"/><circle cx="135.62" cy="103.45" r="2.65"/><circle cx="138.04" cy="101.11" r="2.65"/><circle cx="140.45" cy="98.89" r="2.65"/><circle cx="142.87" cy="96.69" r="2.65"/><circle cx="145.28" cy="94.42" r="2.65"/><circle cx="147.70" cy="92.05" r="2.65"/><circle cx="150.11" cy="89.63" r="2.65"/><circle cx="152.53" cy="87.25" r="2.65"/><circle cx="154.94" cy="84.99" r="2.65"/><circle cx="157.36" cy="82.89" r="2.65"/><circle cx="159.77" cy="81.01" r="2.65"/><circle cx="162.19" cy="79.40" r="2.65"/><circle cx="164.60" cy="78.11" r="2.65"/><circle cx="167.02" cy="77.17" r="2.65"/><circle cx="169.43" cy="76.60" r="2.65"/><circle cx="171.85" cy="76.36" r="2.65"/><circle cx="174.26" cy="76.47" r="2.65"/><circle cx="176.68" cy="76.97" r="2.65"/><circle cx="179.09" cy="77.93" r="2.65"/><circle cx="181.51" cy="79.39" r="2.65"/><circle cx="183.92" cy="81.25" r="2.65"/><circle cx="186.34" cy="83.39" r="2.65"/><circle cx="188.75" cy="85.81" r="2.65"/><circle cx="191.17" cy="88.53" r="2.65"/><circle cx="193.58" cy="91.52" r="2.65"/><circle cx="196.00" cy="94.70" r="2.65"/><circle cx="198.41" cy="97.95" r="2.65"/><circle cx="200.83" cy="101.21" r="2.65"/><circle cx="203.24" cy="104.50" r="2.65"/><circle cx="205.66" cy="107.93" r="2.65"/><circle cx="208.07" cy="111.62" r="2.65"/><circle cx="210.49" cy="115.68" r="2.65"/><circle cx="212.90" cy="120.06" r="2.65"/><circle cx="215.32" cy="124.66" r="2.65"/><circle cx="217.73" cy="129.33" r="2.65"/><circle cx="220.15" cy="133.82" r="2.65"/><circle cx="222.56" cy="137.86" r="2.65"/><circle cx="224.98" cy="141.41" r="2.65"/><circle cx="227.39" cy="144.94" r="2.65"/><circle cx="229.81" cy="148.96" r="2.65"/><circle cx="232.22" cy="153.33" r="2.65"/><circle cx="234.64" cy="157.61" r="2.65"/><circle cx="237.05" cy="161.61" r="2.65"/><circle cx="239.47" cy="165.44" r="2.65"/><circle cx="241.88" cy="169.26" r="2.65"/><circle cx="244.30" cy="173.21" r="2.65"/><circle cx="246.71" cy="177.36" r="2.65"/><circle cx="249.13" cy="181.72" r="2.65"/><circle cx="251.54" cy="186.26" r="2.65"/><circle cx="253.96" cy="190.89" r="2.65"/><circle cx="256.37" cy="195.55" r="2.65"/><circle cx="258.79" cy="200.42" r="2.65"/><circle cx="261.20" cy="205.86" r="2.65"/><circle cx="263.62" cy="211.98" r="2.65"/><circle cx="266.03" cy="218.26" r="2.65"/><circle cx="268.45" cy="224.10" r="2.65"/><circle cx="270.86" cy="229.33" r="2.65"/><circle cx="273.28" cy="233.88" r="2.65"/><circle cx="275.69" cy="237.70" r="2.65"/><circle cx="278.11" cy="240.74" r="2.65"/><circle cx="280.52" cy="243.07" r="2.65"/><circle cx="282.94" cy="244.84" r="2.65"/><circle cx="285.35" cy="246.17" r="2.65"/><circle cx="287.77" cy="247.17" r="2.65"/><circle cx="290.18" cy="247.94" r="2.65"/><circle cx="292.60" cy="248.56" r="2.65"/><circle cx="295.01" cy="249.08" r="2.65"/><circle cx="297.43" cy="249.55" r="2.65"/><circle cx="299.84" cy="250.04" r="2.65"/><circle cx="302.26" cy="250.64" r="2.65"/><circle cx="304.67" cy="251.38" r="2.65"/><circle cx="307.09" cy="252.25" r="2.65"/><circle cx="309.50" cy="253.17" r="2.65"/><circle cx="311.92" cy="254.11" r="2.65"/><circle cx="314.33" cy="255.04" r="2.65"/><circle cx="316.75" cy="255.98" r="2.65"/><circle cx="319.16" cy="256.94" r="2.65"/><circle cx="321.58" cy="257.99" r="2.65"/><circle cx="323.99" cy="259.17" r="2.65"/><circle cx="326.41" cy="260.52" r="2.65"/><circle cx="328.82" cy="262.00" r="2.65"/><circle cx="331.24" cy="263.53" r="2.65"/><circle cx="333.65" cy="265.01" r="2.65"/><circle cx="336.07" cy="266.40" r="2.65"/><circle cx="338.48" cy="267.67" r="2.65"/><circle cx="340.90" cy="268.81" r="2.65"/><circle cx="343.31" cy="269.83" r="2.65"/><circle cx="345.73" cy="270.75" r="2.65"/><circle cx="348.14" cy="271.57" r="2.65"/><circle cx="350.56" cy="272.28" r="2.65"/><circle cx="352.97" cy="272.83" r="2.65"/><circle cx="355.39" cy="273.16" r="2.65"/></g><path d="M92.15,165.19 L92.65,164.71 L93.15,164.18 L93.65,163.59 L94.15,162.94 L94.65,162.25 L95.15,161.52 L95.65,160.75 L96.15,159.96 L96.65,159.15 L97.15,158.33 L97.65,157.50 L98.15,156.66 L98.65,155.83 L99.15,155.00 L99.65,154.18 L100.15,153.36 L100.65,152.55 L101.15,151.76 L101.65,150.97 L102.15,150.20 L102.65,149.43 L103.15,148.67 L103.65,147.93 L104.15,147.19 L104.65,146.45 L105.15,145.73 L105.65,145.01 L106.15,144.30 L106.65,143.59 L107.15,142.89 L107.65,142.19 L108.15,141.50 L108.65,140.82 L109.15,140.14 L109.65,139.47 L110.15,138.80 L110.65,138.14 L111.15,137.49 L111.65,136.85 L112.15,136.21 L112.65,135.58 L113.15,134.96 L113.65,134.35 L114.15,133.74 L114.65,133.13 L115.15,132.53 L115.65,131.94 L116.15,131.35 L116.65,130.76 L117.15,130.18 L117.65,129.59 L118.15,129.01 L118.65,128.44 L119.15,127.86 L119.65,127.29 L120.15,126.73 L120.65,126.16 L121.15,125.60 L121.65,125.05 L122.15,124.51 L122.65,123.97 L123.15,123.44 L123.65,122.91 L124.15,122.40 L124.65,121.89 L125.15,121.40 L125.65,120.91 L126.15,120.44 L126.65,119.97 L127.15,119.52 L127.65,119.07 L128.15,118.64 L128.65,118.21 L129.15,117.79 L129.65,117.38 L130.15,116.98 L130.65,116.59 L131.15,116.20 L131.65,115.82 L132.15,115.45 L132.65,115.08 L133.15,114.73 L133.65,114.37 L134.15,114.03 L134.65,113.69 L135.15,113.36 L135.65,113.04 L136.15,112.72 L136.65,112.41 L137.15,112.10 L137.65,111.81 L138.15,111.52 L138.65,111.24 L139.15,110.96 L139.65,110.70 L140.15,110.44 L140.65,110.19 L141.15,109.95 L141.65,109.71 L142.15,109.49 L142.65,109.27 L143.15,109.06 L143.65,108.86 L144.15,108.67 L144.65,108.49 L145.15,108.32 L145.65,108.16 L146.15,108.00 L146.65,107.86 L147.15,107.73 L147.65,107.61 L148.15,107.49 L148.65,107.39 L149.15,107.29 L149.65,107.21 L150.15,107.13 L150.65,107.06 L151.15,107.00 L151.65,106.95 L152.15,106.91 L152.65,106.87 L153.15,106.84 L153.65,106.81 L154.15,106.80 L154.65,106.79 L155.15,106.78 L155.65,106.79 L156.15,106.80 L156.65,106.82 L157.15,106.85 L157.65,106.88 L158.15,106.93 L158.65,106.99 L159.15,107.05 L159.65,107.13 L160.15,107.23 L160.65,107.33 L161.15,107.45 L161.65,107.58 L162.15,107.72 L162.65,107.87 L163.15,108.04 L163.65,108.23 L164.15,108.42 L164.65,108.62 L165.15,108.84 L165.65,109.06 L166.15,109.29 L166.65,109.54 L167.15,109.78 L167.65,110.04 L168.15,110.30 L168.65,110.56 L169.15,110.84 L169.65,111.11 L170.15,111.39 L170.65,111.68 L171.15,111.97 L171.65,112.27 L172.15,112.57 L172.65,112.88 L173.15,113.20 L173.65,113.52 L174.15,113.85 L174.65,114.19 L175.15,114.53 L175.65,114.89 L176.15,115.25 L176.65,115.63 L177.15,116.02 L177.65,116.42 L178.15,116.83 L178.65,117.25 L179.15,117.69 L179.65,118.13 L180.15,118.59 L180.65,119.07 L181.15,119.55 L181.65,120.04 L182.15,120.55 L182.65,121.06 L183.15,121.57 L183.65,122.09 L184.15,122.61 L184.65,123.14 L185.15,123.67 L185.65,124.19 L186.15,124.72 L186.65,125.24 L187.15,125.77 L187.65,126.29 L188.15,126.81 L188.65,127.33 L189.15,127.85 L189.65,128.37 L190.15,128.90 L190.65,129.42 L191.15,129.94 L191.65,130.47 L192.15,131.00 L192.65,131.54 L193.15,132.07 L193.65,132.62 L194.15,133.16 L194.65,133.72 L195.15,134.28 L195.65,134.84 L196.15,135.41 L196.65,135.99 L197.15,136.57 L197.65,137.16 L198.15,137.75 L198.65,138.35 L199.15,138.96 L199.65,139.57 L200.15,140.18 L200.65,140.80 L201.15,141.42 L201.65,142.04 L202.15,142.67 L202.65,143.29 L203.15,143.92 L203.65,144.55 L204.15,145.18 L204.65,145.81 L205.15,146.44 L205.65,147.07 L206.15,147.69 L206.65,148.32 L207.15,148.95 L207.65,149.57 L208.15,150.20 L208.65,150.82 L209.15,151.45 L209.65,152.07 L210.15,152.70 L210.65,153.32 L211.15,153.95 L211.65,154.58 L212.15,155.20 L212.65,155.83 L213.15,156.46 L213.65,157.09 L214.15,157.72 L214.65,158.35 L215.15,158.98 L215.65,159.61 L216.15,160.24 L216.65,160.87 L217.15,161.51 L217.65,162.14 L218.15,162.78 L218.65,163.41 L219.15,164.05 L219.65,164.69 L220.15,165.32 L220.65,165.97 L221.15,166.61 L221.65,167.25 L222.15,167.90 L222.65,168.55 L223.15,169.21 L223.65,169.87 L224.15,170.54 L224.65,171.21 L225.15,171.89 L225.65,172.58 L226.15,173.28 L226.65,173.99 L227.15,174.70 L227.65,175.43 L228.15,176.16 L228.65,176.91 L229.15,177.66 L229.65,178.43 L230.15,179.20 L230.65,179.98 L231.15,180.77 L231.65,181.57 L232.15,182.37 L232.65,183.18 L233.15,183.99 L233.65,184.81 L234.15,185.64 L234.65,186.47 L235.15,187.30 L235.65,188.13 L236.15,188.97 L236.65,189.81 L237.15,190.65 L237.65,191.49 L238.15,192.34 L238.65,193.19 L239.15,194.03 L239.65,194.88 L240.15,195.73 L240.65,196.58 L241.15,197.43 L241.65,198.28 L242.15,199.12 L242.65,199.97 L243.15,200.81 L243.65,201.66 L244.15,202.50 L244.65,203.33 L245.15,204.16 L245.65,204.99 L246.15,205.81 L246.65,206.62 L247.15,207.43 L247.65,208.23 L248.15,209.03 L248.65,209.82 L249.15,210.60 L249.65,211.37 L250.15,212.14 L250.65,212.91 L251.15,213.67 L251.65,214.44 L252.15,215.20 L252.65,215.96 L253.15,216.72 L253.65,217.49 L254.15,218.26 L254.65,219.04 L255.15,219.83 L255.65,220.62 L256.15,221.43 L256.65,222.24 L257.15,223.07 L257.65,223.92 L258.15,224.78 L258.65,225.66 L259.15,226.56 L259.65,227.47 L260.15,228.40 L260.65,229.35 L261.15,230.31 L261.65,231.29 L262.15,232.27 L262.65,233.25 L263.15,234.22 L263.65,235.19 L264.15,236.14 L264.65,237.06 L265.15,237.96 L265.65,238.83 L266.15,239.67 L266.65,240.47 L267.15,241.24 L267.65,241.97 L268.15,242.66 L268.65,243.32 L269.15,243.95 L269.65,244.54 L270.15,245.10 L270.65,245.64 L271.15,246.14 L271.65,246.62 L272.15,247.07 L272.65,247.50 L273.15,247.91 L273.65,248.29 L274.15,248.65 L274.65,249.00 L275.15,249.32 L275.65,249.62 L276.15,249.91 L276.65,250.18 L277.15,250.43 L277.65,250.67 L278.15,250.90 L278.65,251.11 L279.15,251.31 L279.65,251.50 L280.15,251.68 L280.65,251.84 L281.15,252.00 L281.65,252.15 L282.15,252.29 L282.65,252.42 L283.15,252.55 L283.65,252.66 L284.15,252.77 L284.65,252.88 L285.15,252.97 L285.65,253.07 L286.15,253.15 L286.65,253.23 L287.15,253.31 L287.65,253.38 L288.15,253.45 L288.65,253.51 L289.15,253.57 L289.65,253.63 L290.15,253.68 L290.65,253.74 L291.15,253.79 L291.65,253.83 L292.15,253.88 L292.65,253.92 L293.15,253.97 L293.65,254.01 L294.15,254.05 L294.65,254.09 L295.15,254.13 L295.65,254.17 L296.15,254.21 L296.65,254.25 L297.15,254.29 L297.65,254.34 L298.15,254.39 L298.65,254.45 L299.15,254.51 L299.65,254.58 L300.15,254.67 L300.65,254.76 L301.15,254.86 L301.65,254.98 L302.15,255.11 L302.65,255.26 L303.15,255.42 L303.65,255.59 L304.15,255.78 L304.65,255.97 L305.15,256.18 L305.65,256.39 L306.15,256.60 L306.65,256.81 L307.15,257.02 L307.65,257.22 L308.15,257.42 L308.65,257.60 L309.15,257.78 L309.65,257.94 L310.15,258.10 L310.65,258.24 L311.15,258.37 L311.65,258.50 L312.15,258.62 L312.65,258.73 L313.15,258.84 L313.65,258.95 L314.15,259.06 L314.65,259.17 L315.15,259.28 L315.65,259.39 L316.15,259.52 L316.65,259.64 L317.15,259.78 L317.65,259.92 L318.15,260.07 L318.65,260.23 L319.15,260.40 L319.65,260.58 L320.15,260.77 L320.65,260.96 L321.15,261.17 L321.65,261.39 L322.15,261.61 L322.65,261.84 L323.15,262.08 L323.65,262.32 L324.15,262.57 L324.65,262.83 L325.15,263.09 L325.65,263.35 L326.15,263.61 L326.65,263.88 L327.15,264.15 L327.65,264.42 L328.15,264.69 L328.65,264.97 L329.15,265.24 L329.65,265.51 L330.15,265.78 L330.65,266.06 L331.15,266.33 L331.65,266.60 L332.15,266.86 L332.65,267.13 L333.15,267.40 L333.65,267.66 L334.15,267.92 L334.65,268.18 L335.15,268.43 L335.65,268.69 L336.15,268.94 L336.65,269.19 L337.15,269.44 L337.65,269.68 L338.15,269.92 L338.65,270.16 L339.15,270.40 L339.65,270.63 L340.15,270.86 L340.65,271.09 L341.15,271.31 L341.65,271.54 L342.15,271.75 L342.65,271.97 L343.15,272.19 L343.65,272.40 L344.15,272.61 L344.65,272.81 L345.15,273.02 L345.65,273.22 L346.15,273.42 L346.65,273.62 L347.15,273.81 L347.65,274.01 L348.15,274.20 L348.65,274.38 L349.15,274.57 L349.65,274.74 L350.15,274.92 L350.65,275.09 L351.15,275.25 L351.65,275.40 L352.15,275.54 L352.65,275.68 L353.15,275.80 L353.65,275.92 L354.15,276.02 L354.65,276.11 L355.15,276.19 L355.65,276.25" fill="none" stroke="#ec7800" stroke-width="2.0"/>
<g fill="#ec7800"><circle cx="92.15" cy="165.19" r="2.65"/><circle cx="94.57" cy="162.37" r="2.65"/><circle cx="96.98" cy="158.61" r="2.65"/><circle cx="99.40" cy="154.59" r="2.65"/><circle cx="101.81" cy="150.72" r="2.65"/><circle cx="104.23" cy="147.08" r="2.65"/><circle cx="106.64" cy="143.61" r="2.65"/><circle cx="109.06" cy="140.27" r="2.65"/><circle cx="111.47" cy="137.08" r="2.65"/><circle cx="113.89" cy="134.06" r="2.65"/><circle cx="116.30" cy="131.17" r="2.65"/><circle cx="118.72" cy="128.36" r="2.65"/><circle cx="121.13" cy="125.63" r="2.65"/><circle cx="123.55" cy="123.02" r="2.65"/><circle cx="125.96" cy="120.62" r="2.65"/><circle cx="128.38" cy="118.44" r="2.65"/><circle cx="130.79" cy="116.48" r="2.65"/><circle cx="133.21" cy="114.69" r="2.65"/><circle cx="135.62" cy="113.06" r="2.65"/><circle cx="138.04" cy="111.59" r="2.65"/><circle cx="140.45" cy="110.29" r="2.65"/><circle cx="142.87" cy="109.18" r="2.65"/><circle cx="145.28" cy="108.28" r="2.65"/><circle cx="147.70" cy="107.59" r="2.65"/><circle cx="150.11" cy="107.14" r="2.65"/><circle cx="152.53" cy="106.88" r="2.65"/><circle cx="154.94" cy="106.78" r="2.65"/><circle cx="157.36" cy="106.86" r="2.65"/><circle cx="159.77" cy="107.15" r="2.65"/><circle cx="162.19" cy="107.73" r="2.65"/><circle cx="164.60" cy="108.60" r="2.65"/><circle cx="167.02" cy="109.72" r="2.65"/><circle cx="169.43" cy="110.99" r="2.65"/><circle cx="171.85" cy="112.39" r="2.65"/><circle cx="174.26" cy="113.92" r="2.65"/><circle cx="176.68" cy="115.65" r="2.65"/><circle cx="179.09" cy="117.63" r="2.65"/><circle cx="181.51" cy="119.90" r="2.65"/><circle cx="183.92" cy="122.37" r="2.65"/><circle cx="186.34" cy="124.91" r="2.65"/><circle cx="188.75" cy="127.44" r="2.65"/><circle cx="191.17" cy="129.96" r="2.65"/><circle cx="193.58" cy="132.54" r="2.65"/><circle cx="196.00" cy="135.23" r="2.65"/><circle cx="198.41" cy="138.06" r="2.65"/><circle cx="200.83" cy="141.01" r="2.65"/><circle cx="203.24" cy="144.04" r="2.65"/><circle cx="205.66" cy="147.07" r="2.65"/><circle cx="208.07" cy="150.10" r="2.65"/><circle cx="210.49" cy="153.12" r="2.65"/><circle cx="212.90" cy="156.14" r="2.65"/><circle cx="215.32" cy="159.19" r="2.65"/><circle cx="217.73" cy="162.24" r="2.65"/><circle cx="220.15" cy="165.32" r="2.65"/><circle cx="222.56" cy="168.44" r="2.65"/><circle cx="224.98" cy="171.65" r="2.65"/><circle cx="227.39" cy="175.05" r="2.65"/><circle cx="229.81" cy="178.66" r="2.65"/><circle cx="232.22" cy="182.48" r="2.65"/><circle cx="234.64" cy="186.44" r="2.65"/><circle cx="237.05" cy="190.48" r="2.65"/><circle cx="239.47" cy="194.57" r="2.65"/><circle cx="241.88" cy="198.67" r="2.65"/><circle cx="244.30" cy="202.74" r="2.65"/><circle cx="246.71" cy="206.72" r="2.65"/><circle cx="249.13" cy="210.56" r="2.65"/><circle cx="251.54" cy="214.27" r="2.65"/><circle cx="253.96" cy="217.96" r="2.65"/><circle cx="256.37" cy="221.78" r="2.65"/><circle cx="258.79" cy="225.90" r="2.65"/><circle cx="261.20" cy="230.41" r="2.65"/><circle cx="263.62" cy="235.12" r="2.65"/><circle cx="266.03" cy="239.47" r="2.65"/><circle cx="268.45" cy="243.05" r="2.65"/><circle cx="270.86" cy="245.85" r="2.65"/><circle cx="273.28" cy="248.01" r="2.65"/><circle cx="275.69" cy="249.65" r="2.65"/><circle cx="278.11" cy="250.88" r="2.65"/><circle cx="280.52" cy="251.80" r="2.65"/><circle cx="282.94" cy="252.50" r="2.65"/><circle cx="285.35" cy="253.01" r="2.65"/><circle cx="287.77" cy="253.39" r="2.65"/><circle cx="290.18" cy="253.69" r="2.65"/><circle cx="292.60" cy="253.92" r="2.65"/><circle cx="295.01" cy="254.12" r="2.65"/><circle cx="297.43" cy="254.32" r="2.65"/><circle cx="299.84" cy="254.61" r="2.65"/><circle cx="302.26" cy="255.14" r="2.65"/><circle cx="304.67" cy="255.98" r="2.65"/><circle cx="307.09" cy="256.99" r="2.65"/><circle cx="309.50" cy="257.90" r="2.65"/><circle cx="311.92" cy="258.56" r="2.65"/><circle cx="314.33" cy="259.10" r="2.65"/><circle cx="316.75" cy="259.67" r="2.65"/><circle cx="319.16" cy="260.40" r="2.65"/><circle cx="321.58" cy="261.35" r="2.65"/><circle cx="323.99" cy="262.49" r="2.65"/><circle cx="326.41" cy="263.75" r="2.65"/><circle cx="328.82" cy="265.06" r="2.65"/><circle cx="331.24" cy="266.37" r="2.65"/><circle cx="333.65" cy="267.66" r="2.65"/><circle cx="336.07" cy="268.90" r="2.65"/><circle cx="338.48" cy="270.08" r="2.65"/><circle cx="340.90" cy="271.20" r="2.65"/><circle cx="343.31" cy="272.25" r="2.65"/><circle cx="345.73" cy="273.25" r="2.65"/><circle cx="348.14" cy="274.19" r="2.65"/><circle cx="350.56" cy="275.05" r="2.65"/><circle cx="352.97" cy="275.76" r="2.65"/><circle cx="355.39" cy="276.22" r="2.65"/></g><path d="M92.15,204.36 L92.65,204.10 L93.15,203.81 L93.65,203.49 L94.15,203.14 L94.65,202.76 L95.15,202.37 L95.65,201.95 L96.15,201.52 L96.65,201.08 L97.15,200.63 L97.65,200.17 L98.15,199.71 L98.65,199.25 L99.15,198.79 L99.65,198.34 L100.15,197.88 L100.65,197.43 L101.15,196.99 L101.65,196.54 L102.15,196.10 L102.65,195.67 L103.15,195.24 L103.65,194.81 L104.15,194.38 L104.65,193.96 L105.15,193.55 L105.65,193.13 L106.15,192.72 L106.65,192.32 L107.15,191.92 L107.65,191.52 L108.15,191.13 L108.65,190.74 L109.15,190.35 L109.65,189.97 L110.15,189.59 L110.65,189.22 L111.15,188.85 L111.65,188.48 L112.15,188.12 L112.65,187.77 L113.15,187.42 L113.65,187.07 L114.15,186.73 L114.65,186.39 L115.15,186.06 L115.65,185.73 L116.15,185.41 L116.65,185.09 L117.15,184.78 L117.65,184.47 L118.15,184.17 L118.65,183.87 L119.15,183.58 L119.65,183.29 L120.15,183.01 L120.65,182.73 L121.15,182.46 L121.65,182.20 L122.15,181.94 L122.65,181.69 L123.15,181.44 L123.65,181.21 L124.15,180.98 L124.65,180.76 L125.15,180.54 L125.65,180.33 L126.15,180.13 L126.65,179.94 L127.15,179.76 L127.65,179.58 L128.15,179.40 L128.65,179.23 L129.15,179.07 L129.65,178.91 L130.15,178.76 L130.65,178.61 L131.15,178.46 L131.65,178.32 L132.15,178.18 L132.65,178.04 L133.15,177.91 L133.65,177.78 L134.15,177.65 L134.65,177.53 L135.15,177.40 L135.65,177.29 L136.15,177.18 L136.65,177.07 L137.15,176.96 L137.65,176.86 L138.15,176.77 L138.65,176.68 L139.15,176.60 L139.65,176.52 L140.15,176.45 L140.65,176.39 L141.15,176.34 L141.65,176.29 L142.15,176.25 L142.65,176.22 L143.15,176.19 L143.65,176.17 L144.15,176.16 L144.65,176.15 L145.15,176.15 L145.65,176.15 L146.15,176.17 L146.65,176.18 L147.15,176.21 L147.65,176.24 L148.15,176.28 L148.65,176.32 L149.15,176.37 L149.65,176.43 L150.15,176.50 L150.65,176.57 L151.15,176.65 L151.65,176.74 L152.15,176.83 L152.65,176.93 L153.15,177.04 L153.65,177.14 L154.15,177.26 L154.65,177.37 L155.15,177.49 L155.65,177.62 L156.15,177.75 L156.65,177.88 L157.15,178.03 L157.65,178.18 L158.15,178.33 L158.65,178.50 L159.15,178.67 L159.65,178.85 L160.15,179.04 L160.65,179.24 L161.15,179.45 L161.65,179.66 L162.15,179.89 L162.65,180.13 L163.15,180.37 L163.65,180.62 L164.15,180.88 L164.65,181.15 L165.15,181.43 L165.65,181.72 L166.15,182.02 L166.65,182.32 L167.15,182.63 L167.65,182.95 L168.15,183.28 L168.65,183.62 L169.15,183.96 L169.65,184.31 L170.15,184.67 L170.65,185.04 L171.15,185.42 L171.65,185.80 L172.15,186.19 L172.65,186.59 L173.15,186.99 L173.65,187.40 L174.15,187.81 L174.65,188.23 L175.15,188.65 L175.65,189.08 L176.15,189.50 L176.65,189.93 L177.15,190.37 L177.65,190.80 L178.15,191.23 L178.65,191.67 L179.15,192.10 L179.65,192.53 L180.15,192.96 L180.65,193.38 L181.15,193.81 L181.65,194.23 L182.15,194.65 L182.65,195.06 L183.15,195.48 L183.65,195.89 L184.15,196.31 L184.65,196.72 L185.15,197.14 L185.65,197.56 L186.15,197.97 L186.65,198.40 L187.15,198.82 L187.65,199.25 L188.15,199.68 L188.65,200.12 L189.15,200.57 L189.65,201.02 L190.15,201.48 L190.65,201.94 L191.15,202.41 L191.65,202.88 L192.15,203.36 L192.65,203.85 L193.15,204.34 L193.65,204.83 L194.15,205.33 L194.65,205.83 L195.15,206.33 L195.65,206.83 L196.15,207.33 L196.65,207.83 L197.15,208.33 L197.65,208.82 L198.15,209.31 L198.65,209.80 L199.15,210.29 L199.65,210.77 L200.15,211.24 L200.65,211.72 L201.15,212.18 L201.65,212.65 L202.15,213.11 L202.65,213.56 L203.15,214.02 L203.65,214.46 L204.15,214.91 L204.65,215.35 L205.15,215.79 L205.65,216.23 L206.15,216.67 L206.65,217.10 L207.15,217.53 L207.65,217.96 L208.15,218.38 L208.65,218.81 L209.15,219.23 L209.65,219.65 L210.15,220.06 L210.65,220.48 L211.15,220.89 L211.65,221.30 L212.15,221.71 L212.65,222.11 L213.15,222.52 L213.65,222.93 L214.15,223.34 L214.65,223.75 L215.15,224.16 L215.65,224.59 L216.15,225.01 L216.65,225.45 L217.15,225.90 L217.65,226.35 L218.15,226.82 L218.65,227.30 L219.15,227.80 L219.65,228.30 L220.15,228.82 L220.65,229.35 L221.15,229.90 L221.65,230.45 L222.15,231.00 L222.65,231.56 L223.15,232.12 L223.65,232.67 L224.15,233.22 L224.65,233.76 L225.15,234.29 L225.65,234.80 L226.15,235.30 L226.65,235.79 L227.15,236.25 L227.65,236.70 L228.15,237.14 L228.65,237.55 L229.15,237.96 L229.65,238.36 L230.15,238.74 L230.65,239.12 L231.15,239.50 L231.65,239.87 L232.15,240.24 L232.65,240.61 L233.15,240.98 L233.65,241.36 L234.15,241.74 L234.65,242.12 L235.15,242.52 L235.65,242.92 L236.15,243.33 L236.65,243.75 L237.15,244.18 L237.65,244.61 L238.15,245.05 L238.65,245.50 L239.15,245.96 L239.65,246.42 L240.15,246.88 L240.65,247.34 L241.15,247.81 L241.65,248.27 L242.15,248.74 L242.65,249.20 L243.15,249.66 L243.65,250.11 L244.15,250.56 L244.65,251.00 L245.15,251.44 L245.65,251.87 L246.15,252.29 L246.65,252.71 L247.15,253.12 L247.65,253.52 L248.15,253.92 L248.65,254.31 L249.15,254.69 L249.65,255.07 L250.15,255.44 L250.65,255.81 L251.15,256.16 L251.65,256.52 L252.15,256.86 L252.65,257.20 L253.15,257.53 L253.65,257.85 L254.15,258.16 L254.65,258.47 L255.15,258.77 L255.65,259.06 L256.15,259.35 L256.65,259.63 L257.15,259.90 L257.65,260.16 L258.15,260.42 L258.65,260.67 L259.15,260.92 L259.65,261.16 L260.15,261.39 L260.65,261.62 L261.15,261.84 L261.65,262.06 L262.15,262.27 L262.65,262.48 L263.15,262.68 L263.65,262.88 L264.15,263.07 L264.65,263.26 L265.15,263.45 L265.65,263.63 L266.15,263.81 L266.65,263.99 L267.15,264.16 L267.65,264.33 L268.15,264.49 L268.65,264.65 L269.15,264.80 L269.65,264.95 L270.15,265.09 L270.65,265.22 L271.15,265.35 L271.65,265.46 L272.15,265.57 L272.65,265.66 L273.15,265.74 L273.65,265.82 L274.15,265.88 L274.65,265.93 L275.15,265.98 L275.65,266.01 L276.15,266.04 L276.65,266.06 L277.15,266.07 L277.65,266.08 L278.15,266.08 L278.65,266.08 L279.15,266.07 L279.65,266.06 L280.15,266.05 L280.65,266.03 L281.15,266.02 L281.65,266.00 L282.15,265.97 L282.65,265.95 L283.15,265.91 L283.65,265.88 L284.15,265.83 L284.65,265.79 L285.15,265.73 L285.65,265.67 L286.15,265.60 L286.65,265.53 L287.15,265.44 L287.65,265.35 L288.15,265.26 L288.65,265.16 L289.15,265.05 L289.65,264.95 L290.15,264.83 L290.65,264.72 L291.15,264.61 L291.65,264.50 L292.15,264.40 L292.65,264.29 L293.15,264.20 L293.65,264.10 L294.15,264.01 L294.65,263.93 L295.15,263.85 L295.65,263.78 L296.15,263.72 L296.65,263.66 L297.15,263.60 L297.65,263.55 L298.15,263.50 L298.65,263.45 L299.15,263.41 L299.65,263.37 L300.15,263.33 L300.65,263.30 L301.15,263.26 L301.65,263.24 L302.15,263.21 L302.65,263.19 L303.15,263.17 L303.65,263.15 L304.15,263.14 L304.65,263.13 L305.15,263.13 L305.65,263.13 L306.15,263.13 L306.65,263.14 L307.15,263.16 L307.65,263.18 L308.15,263.21 L308.65,263.25 L309.15,263.29 L309.65,263.34 L310.15,263.40 L310.65,263.46 L311.15,263.54 L311.65,263.62 L312.15,263.71 L312.65,263.81 L313.15,263.91 L313.65,264.03 L314.15,264.16 L314.65,264.30 L315.15,264.46 L315.65,264.62 L316.15,264.80 L316.65,264.99 L317.15,265.19 L317.65,265.41 L318.15,265.63 L318.65,265.86 L319.15,266.10 L319.65,266.35 L320.15,266.60 L320.65,266.85 L321.15,267.11 L321.65,267.37 L322.15,267.63 L322.65,267.90 L323.15,268.16 L323.65,268.43 L324.15,268.69 L324.65,268.96 L325.15,269.23 L325.65,269.49 L326.15,269.76 L326.65,270.02 L327.15,270.29 L327.65,270.55 L328.15,270.82 L328.65,271.08 L329.15,271.35 L329.65,271.61 L330.15,271.87 L330.65,272.13 L331.15,272.40 L331.65,272.66 L332.15,272.92 L332.65,273.18 L333.15,273.44 L333.65,273.70 L334.15,273.96 L334.65,274.21 L335.15,274.47 L335.65,274.72 L336.15,274.98 L336.65,275.23 L337.15,275.48 L337.65,275.73 L338.15,275.98 L338.65,276.22 L339.15,276.47 L339.65,276.71 L340.15,276.94 L340.65,277.18 L341.15,277.41 L341.65,277.64 L342.15,277.87 L342.65,278.10 L343.15,278.32 L343.65,278.55 L344.15,278.77 L344.65,278.98 L345.15,279.20 L345.65,279.41 L346.15,279.63 L346.65,279.84 L347.15,280.04 L347.65,280.25 L348.15,280.45 L348.65,280.65 L349.15,280.85 L349.65,281.04 L350.15,281.23 L350.65,281.41 L351.15,281.58 L351.65,281.75 L352.15,281.91 L352.65,282.05 L353.15,282.19 L353.65,282.31 L354.15,282.42 L354.65,282.52 L355.15,282.61 L355.65,282.68" fill="none" stroke="#d8007a" stroke-width="2.0"/>
<g fill="#d8007a"><circle cx="92.15" cy="204.36" r="2.65"/><circle cx="94.57" cy="202.83" r="2.65"/><circle cx="96.98" cy="200.78" r="2.65"/><circle cx="99.40" cy="198.57" r="2.65"/><circle cx="101.81" cy="196.40" r="2.65"/><circle cx="104.23" cy="194.32" r="2.65"/><circle cx="106.64" cy="192.33" r="2.65"/><circle cx="109.06" cy="190.42" r="2.65"/><circle cx="111.47" cy="188.61" r="2.65"/><circle cx="113.89" cy="186.91" r="2.65"/><circle cx="116.30" cy="185.31" r="2.65"/><circle cx="118.72" cy="183.83" r="2.65"/><circle cx="121.13" cy="182.47" r="2.65"/><circle cx="123.55" cy="181.26" r="2.65"/><circle cx="125.96" cy="180.21" r="2.65"/><circle cx="128.38" cy="179.32" r="2.65"/><circle cx="130.79" cy="178.56" r="2.65"/><circle cx="133.21" cy="177.89" r="2.65"/><circle cx="135.62" cy="177.30" r="2.65"/><circle cx="138.04" cy="176.79" r="2.65"/><circle cx="140.45" cy="176.42" r="2.65"/><circle cx="142.87" cy="176.21" r="2.65"/><circle cx="145.28" cy="176.15" r="2.65"/><circle cx="147.70" cy="176.24" r="2.65"/><circle cx="150.11" cy="176.49" r="2.65"/><circle cx="152.53" cy="176.91" r="2.65"/><circle cx="154.94" cy="177.44" r="2.65"/><circle cx="157.36" cy="178.09" r="2.65"/><circle cx="159.77" cy="178.89" r="2.65"/><circle cx="162.19" cy="179.91" r="2.65"/><circle cx="164.60" cy="181.13" r="2.65"/><circle cx="167.02" cy="182.55" r="2.65"/><circle cx="169.43" cy="184.16" r="2.65"/><circle cx="171.85" cy="185.95" r="2.65"/><circle cx="174.26" cy="187.90" r="2.65"/><circle cx="176.68" cy="189.96" r="2.65"/><circle cx="179.09" cy="192.05" r="2.65"/><circle cx="181.51" cy="194.10" r="2.65"/><circle cx="183.92" cy="196.12" r="2.65"/><circle cx="186.34" cy="198.13" r="2.65"/><circle cx="188.75" cy="200.21" r="2.65"/><circle cx="191.17" cy="202.42" r="2.65"/><circle cx="193.58" cy="204.76" r="2.65"/><circle cx="196.00" cy="207.17" r="2.65"/><circle cx="198.41" cy="209.57" r="2.65"/><circle cx="200.83" cy="211.88" r="2.65"/><circle cx="203.24" cy="214.10" r="2.65"/><circle cx="205.66" cy="216.24" r="2.65"/><circle cx="208.07" cy="218.32" r="2.65"/><circle cx="210.49" cy="220.34" r="2.65"/><circle cx="212.90" cy="222.32" r="2.65"/><circle cx="215.32" cy="224.30" r="2.65"/><circle cx="217.73" cy="226.43" r="2.65"/><circle cx="220.15" cy="228.82" r="2.65"/><circle cx="222.56" cy="231.46" r="2.65"/><circle cx="224.98" cy="234.11" r="2.65"/><circle cx="227.39" cy="236.47" r="2.65"/><circle cx="229.81" cy="238.48" r="2.65"/><circle cx="232.22" cy="240.29" r="2.65"/><circle cx="234.64" cy="242.11" r="2.65"/><circle cx="237.05" cy="244.09" r="2.65"/><circle cx="239.47" cy="246.24" r="2.65"/><circle cx="241.88" cy="248.49" r="2.65"/><circle cx="244.30" cy="250.69" r="2.65"/><circle cx="246.71" cy="252.76" r="2.65"/><circle cx="249.13" cy="254.67" r="2.65"/><circle cx="251.54" cy="256.44" r="2.65"/><circle cx="253.96" cy="258.04" r="2.65"/><circle cx="256.37" cy="259.47" r="2.65"/><circle cx="258.79" cy="260.74" r="2.65"/><circle cx="261.20" cy="261.86" r="2.65"/><circle cx="263.62" cy="262.87" r="2.65"/><circle cx="266.03" cy="263.77" r="2.65"/><circle cx="268.45" cy="264.59" r="2.65"/><circle cx="270.86" cy="265.28" r="2.65"/><circle cx="273.28" cy="265.76" r="2.65"/><circle cx="275.69" cy="266.01" r="2.65"/><circle cx="278.11" cy="266.08" r="2.65"/><circle cx="280.52" cy="266.04" r="2.65"/><circle cx="282.94" cy="265.93" r="2.65"/><circle cx="285.35" cy="265.71" r="2.65"/><circle cx="287.77" cy="265.33" r="2.65"/><circle cx="290.18" cy="264.83" r="2.65"/><circle cx="292.60" cy="264.31" r="2.65"/><circle cx="295.01" cy="263.88" r="2.65"/><circle cx="297.43" cy="263.57" r="2.65"/><circle cx="299.84" cy="263.35" r="2.65"/><circle cx="302.26" cy="263.20" r="2.65"/><circle cx="304.67" cy="263.13" r="2.65"/><circle cx="307.09" cy="263.16" r="2.65"/><circle cx="309.50" cy="263.33" r="2.65"/><circle cx="311.92" cy="263.66" r="2.65"/><circle cx="314.33" cy="264.21" r="2.65"/><circle cx="316.75" cy="265.03" r="2.65"/><circle cx="319.16" cy="266.11" r="2.65"/><circle cx="321.58" cy="267.33" r="2.65"/><circle cx="323.99" cy="268.61" r="2.65"/><circle cx="326.41" cy="269.89" r="2.65"/><circle cx="328.82" cy="271.17" r="2.65"/><circle cx="331.24" cy="272.44" r="2.65"/><circle cx="333.65" cy="273.70" r="2.65"/><circle cx="336.07" cy="274.94" r="2.65"/><circle cx="338.48" cy="276.14" r="2.65"/><circle cx="340.90" cy="277.29" r="2.65"/><circle cx="343.31" cy="278.39" r="2.65"/><circle cx="345.73" cy="279.45" r="2.65"/><circle cx="348.14" cy="280.45" r="2.65"/><circle cx="350.56" cy="281.37" r="2.65"/><circle cx="352.97" cy="282.14" r="2.65"/><circle cx="355.39" cy="282.64" r="2.65"/></g></g>
<rect x="58.7" y="2.1" width="295.90000000000003" height="296.9" fill="none" stroke="#2200cc" stroke-width="2"/><line x1="58.00" y1="299.0" x2="58.00" y2="293.0" stroke="#2200cc" stroke-width="1.5"/><line x1="58.00" y1="2.1" x2="58.00" y2="8.1" stroke="#2200cc" stroke-width="1.5"/><line x1="92.32" y1="299.0" x2="92.32" y2="296.0" stroke="#2200cc" stroke-width="1.5"/><line x1="92.32" y1="2.1" x2="92.32" y2="5.1" stroke="#2200cc" stroke-width="1.5"/><line x1="112.39" y1="299.0" x2="112.39" y2="296.0" stroke="#2200cc" stroke-width="1.5"/><line x1="112.39" y1="2.1" x2="112.39" y2="5.1" stroke="#2200cc" stroke-width="1.5"/><line x1="126.63" y1="299.0" x2="126.63" y2="296.0" stroke="#2200cc" stroke-width="1.5"/><line x1="126.63" y1="2.1" x2="126.63" y2="5.1" stroke="#2200cc" stroke-width="1.5"/><line x1="137.68" y1="299.0" x2="137.68" y2="296.0" stroke="#2200cc" stroke-width="1.5"/><line x1="137.68" y1="2.1" x2="137.68" y2="5.1" stroke="#2200cc" stroke-width="1.5"/><line x1="146.71" y1="299.0" x2="146.71" y2="296.0" stroke="#2200cc" stroke-width="1.5"/><line x1="146.71" y1="2.1" x2="146.71" y2="5.1" stroke="#2200cc" stroke-width="1.5"/><line x1="154.34" y1="299.0" x2="154.34" y2="296.0" stroke="#2200cc" stroke-width="1.5"/><line x1="154.34" y1="2.1" x2="154.34" y2="5.1" stroke="#2200cc" stroke-width="1.5"/><line x1="160.95" y1="299.0" x2="160.95" y2="296.0" stroke="#2200cc" stroke-width="1.5"/><line x1="160.95" y1="2.1" x2="160.95" y2="5.1" stroke="#2200cc" stroke-width="1.5"/><line x1="166.78" y1="299.0" x2="166.78" y2="296.0" stroke="#2200cc" stroke-width="1.5"/><line x1="166.78" y1="2.1" x2="166.78" y2="5.1" stroke="#2200cc" stroke-width="1.5"/><line x1="172.00" y1="299.0" x2="172.00" y2="293.0" stroke="#2200cc" stroke-width="1.5"/><line x1="172.00" y1="2.1" x2="172.00" y2="8.1" stroke="#2200cc" stroke-width="1.5"/><line x1="206.32" y1="299.0" x2="206.32" y2="296.0" stroke="#2200cc" stroke-width="1.5"/><line x1="206.32" y1="2.1" x2="206.32" y2="5.1" stroke="#2200cc" stroke-width="1.5"/><line x1="226.39" y1="299.0" x2="226.39" y2="296.0" stroke="#2200cc" stroke-width="1.5"/><line x1="226.39" y1="2.1" x2="226.39" y2="5.1" stroke="#2200cc" stroke-width="1.5"/><line x1="240.63" y1="299.0" x2="240.63" y2="296.0" stroke="#2200cc" stroke-width="1.5"/><line x1="240.63" y1="2.1" x2="240.63" y2="5.1" stroke="#2200cc" stroke-width="1.5"/><line x1="251.68" y1="299.0" x2="251.68" y2="296.0" stroke="#2200cc" stroke-width="1.5"/><line x1="251.68" y1="2.1" x2="251.68" y2="5.1" stroke="#2200cc" stroke-width="1.5"/><line x1="260.71" y1="299.0" x2="260.71" y2="296.0" stroke="#2200cc" stroke-width="1.5"/><line x1="260.71" y1="2.1" x2="260.71" y2="5.1" stroke="#2200cc" stroke-width="1.5"/><line x1="268.34" y1="299.0" x2="268.34" y2="296.0" stroke="#2200cc" stroke-width="1.5"/><line x1="268.34" y1="2.1" x2="268.34" y2="5.1" stroke="#2200cc" stroke-width="1.5"/><line x1="274.95" y1="299.0" x2="274.95" y2="296.0" stroke="#2200cc" stroke-width="1.5"/><line x1="274.95" y1="2.1" x2="274.95" y2="5.1" stroke="#2200cc" stroke-width="1.5"/><line x1="280.78" y1="299.0" x2="280.78" y2="296.0" stroke="#2200cc" stroke-width="1.5"/><line x1="280.78" y1="2.1" x2="280.78" y2="5.1" stroke="#2200cc" stroke-width="1.5"/><line x1="286.00" y1="299.0" x2="286.00" y2="293.0" stroke="#2200cc" stroke-width="1.5"/><line x1="286.00" y1="2.1" x2="286.00" y2="8.1" stroke="#2200cc" stroke-width="1.5"/><line x1="320.32" y1="299.0" x2="320.32" y2="296.0" stroke="#2200cc" stroke-width="1.5"/><line x1="320.32" y1="2.1" x2="320.32" y2="5.1" stroke="#2200cc" stroke-width="1.5"/><line x1="340.39" y1="299.0" x2="340.39" y2="296.0" stroke="#2200cc" stroke-width="1.5"/><line x1="340.39" y1="2.1" x2="340.39" y2="5.1" stroke="#2200cc" stroke-width="1.5"/><line x1="354.63" y1="299.0" x2="354.63" y2="296.0" stroke="#2200cc" stroke-width="1.5"/><line x1="354.63" y1="2.1" x2="354.63" y2="5.1" stroke="#2200cc" stroke-width="1.5"/><line x1="58.7" y1="299.27" x2="61.7" y2="299.27" stroke="#2200cc" stroke-width="1.5"/><line x1="354.6" y1="299.27" x2="351.6" y2="299.27" stroke="#2200cc" stroke-width="1.5"/><line x1="58.7" y1="286.05" x2="61.7" y2="286.05" stroke="#2200cc" stroke-width="1.5"/><line x1="354.6" y1="286.05" x2="351.6" y2="286.05" stroke="#2200cc" stroke-width="1.5"/><line x1="58.7" y1="274.87" x2="61.7" y2="274.87" stroke="#2200cc" stroke-width="1.5"/><line x1="354.6" y1="274.87" x2="351.6" y2="274.87" stroke="#2200cc" stroke-width="1.5"/><line x1="58.7" y1="265.18" x2="61.7" y2="265.18" stroke="#2200cc" stroke-width="1.5"/><line x1="354.6" y1="265.18" x2="351.6" y2="265.18" stroke="#2200cc" stroke-width="1.5"/><line x1="58.7" y1="256.64" x2="61.7" y2="256.64" stroke="#2200cc" stroke-width="1.5"/><line x1="354.6" y1="256.64" x2="351.6" y2="256.64" stroke="#2200cc" stroke-width="1.5"/><line x1="58.7" y1="249.00" x2="64.7" y2="249.00" stroke="#2200cc" stroke-width="1.5"/><line x1="354.6" y1="249.00" x2="348.6" y2="249.00" stroke="#2200cc" stroke-width="1.5"/><line x1="58.7" y1="198.73" x2="61.7" y2="198.73" stroke="#2200cc" stroke-width="1.5"/><line x1="354.6" y1="198.73" x2="351.6" y2="198.73" stroke="#2200cc" stroke-width="1.5"/><line x1="58.7" y1="169.32" x2="61.7" y2="169.32" stroke="#2200cc" stroke-width="1.5"/><line x1="354.6" y1="169.32" x2="351.6" y2="169.32" stroke="#2200cc" stroke-width="1.5"/><line x1="58.7" y1="148.46" x2="61.7" y2="148.46" stroke="#2200cc" stroke-width="1.5"/><line x1="354.6" y1="148.46" x2="351.6" y2="148.46" stroke="#2200cc" stroke-width="1.5"/><line x1="58.7" y1="132.27" x2="61.7" y2="132.27" stroke="#2200cc" stroke-width="1.5"/><line x1="354.6" y1="132.27" x2="351.6" y2="132.27" stroke="#2200cc" stroke-width="1.5"/><line x1="58.7" y1="119.05" x2="61.7" y2="119.05" stroke="#2200cc" stroke-width="1.5"/><line x1="354.6" y1="119.05" x2="351.6" y2="119.05" stroke="#2200cc" stroke-width="1.5"/><line x1="58.7" y1="107.87" x2="61.7" y2="107.87" stroke="#2200cc" stroke-width="1.5"/><line x1="354.6" y1="107.87" x2="351.6" y2="107.87" stroke="#2200cc" stroke-width="1.5"/><line x1="58.7" y1="98.18" x2="61.7" y2="98.18" stroke="#2200cc" stroke-width="1.5"/><line x1="354.6" y1="98.18" x2="351.6" y2="98.18" stroke="#2200cc" stroke-width="1.5"/><line x1="58.7" y1="89.64" x2="61.7" y2="89.64" stroke="#2200cc" stroke-width="1.5"/><line x1="354.6" y1="89.64" x2="351.6" y2="89.64" stroke="#2200cc" stroke-width="1.5"/><line x1="58.7" y1="82.00" x2="64.7" y2="82.00" stroke="#2200cc" stroke-width="1.5"/><line x1="354.6" y1="82.00" x2="348.6" y2="82.00" stroke="#2200cc" stroke-width="1.5"/><line x1="58.7" y1="31.73" x2="61.7" y2="31.73" stroke="#2200cc" stroke-width="1.5"/><line x1="354.6" y1="31.73" x2="351.6" y2="31.73" stroke="#2200cc" stroke-width="1.5"/><line x1="58.7" y1="2.32" x2="61.7" y2="2.32" stroke="#2200cc" stroke-width="1.5"/><line x1="354.6" y1="2.32" x2="351.6" y2="2.32" stroke="#2200cc" stroke-width="1.5"/>
<rect x="232.5" y="18.5" width="106.5" height="71" fill="#fff" stroke="#333" stroke-width="1"/><line x1="239" y1="30.10" x2="268.6" y2="30.10" stroke="#c20008" stroke-width="1.6"/><circle cx="254" cy="30.10" r="2.7" fill="#c20008"/><text x="271.5" y="34.40" font-family="Liberation Sans, sans-serif" font-size="12" fill="#c20008" stroke="#c20008" stroke-width="0.2" style="will-change:transform">100,000 K</text><line x1="239" y1="42.43" x2="268.6" y2="42.43" stroke="#1a00cc" stroke-width="1.6"/><circle cx="254" cy="42.43" r="2.7" fill="#1a00cc"/><text x="271.5" y="46.73" font-family="Liberation Sans, sans-serif" font-size="12" fill="#1a00cc" stroke="#1a00cc" stroke-width="0.2" style="will-change:transform">200,000 K</text><line x1="239" y1="54.76" x2="268.6" y2="54.76" stroke="#1c5212" stroke-width="1.6"/><circle cx="254" cy="54.76" r="2.7" fill="#1c5212"/><text x="271.5" y="59.06" font-family="Liberation Sans, sans-serif" font-size="12" fill="#1c5212" stroke="#1c5212" stroke-width="0.2" style="will-change:transform">300,000 K</text><line x1="239" y1="67.09" x2="268.6" y2="67.09" stroke="#ec7800" stroke-width="1.6"/><circle cx="254" cy="67.09" r="2.7" fill="#ec7800"/><text x="271.5" y="71.39" font-family="Liberation Sans, sans-serif" font-size="12" fill="#ec7800" stroke="#ec7800" stroke-width="0.2" style="will-change:transform">500,000 K</text><line x1="239" y1="79.42" x2="268.6" y2="79.42" stroke="#d8007a" stroke-width="1.6"/><circle cx="254" cy="79.42" r="2.7" fill="#d8007a"/><text x="271.5" y="83.72" font-family="Liberation Sans, sans-serif" font-size="12" fill="#d8007a" stroke="#d8007a" stroke-width="0.2" style="will-change:transform">1,000,000 K</text>

<g style="will-change:transform" fill="#111" stroke="#111" stroke-width="0.25">
<text x="45" y="85.6" font-family="Liberation Sans, sans-serif" font-size="12" text-anchor="middle">10</text>
<text x="47" y="252.8" font-family="Liberation Sans, sans-serif" font-size="12" text-anchor="middle">1</text>
<text x="58.2" y="317.8" font-family="Liberation Sans, sans-serif" font-size="12" text-anchor="middle">1</text>
<text x="172.3" y="317.8" font-family="Liberation Sans, sans-serif" font-size="12" text-anchor="middle">10</text>
<text x="286.4" y="317.8" font-family="Liberation Sans, sans-serif" font-size="12" text-anchor="middle">100</text>
<text x="161.0" y="336.2" font-family="Liberation Sans, sans-serif" font-size="12">thickness <tspan x="213.6" textLength="40.6" lengthAdjust="spacingAndGlyphs">μ-g/cm2</tspan></text>
<text transform="translate(10.6,202.3) rotate(-90)" x="0" y="0" font-family="Liberation Sans, sans-serif" font-size="12" stroke-width="0" fill="#222">Fe/O enhancement</text>
</g>

</svg>
</body></html>
